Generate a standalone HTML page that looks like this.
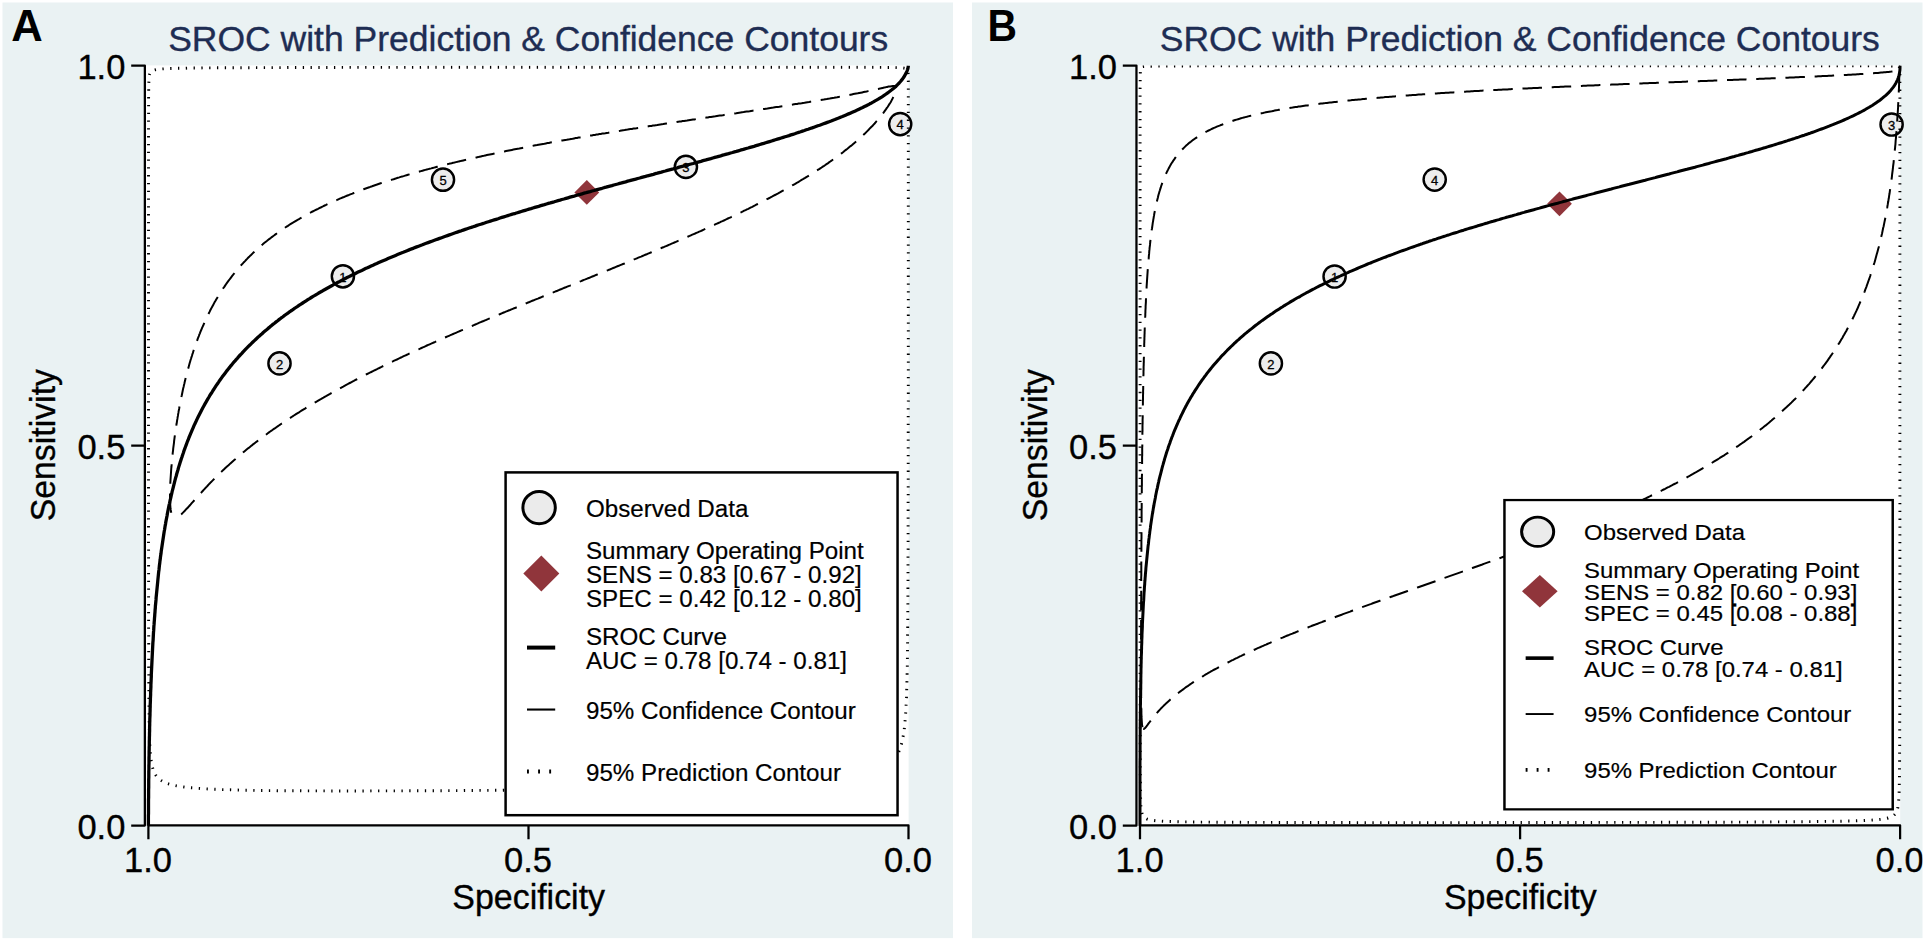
<!DOCTYPE html>
<html><head><meta charset="utf-8"><title>SROC with Prediction &amp; Confidence Contours</title>
<style>
html,body{margin:0;padding:0;background:#fff;}
body{width:1925px;height:941px;overflow:hidden;}
svg{display:block;}
svg text{font-family:"Liberation Sans",sans-serif;}
</style></head><body>
<svg width="1925" height="941" viewBox="0 0 1925 941">
<defs>
<clipPath id="clipA"><rect x="2.5" y="2.5" width="950.5" height="935.6"/></clipPath>
<clipPath id="clipB"><rect x="972" y="2.5" width="950.5" height="935.6"/></clipPath>
<clipPath id="plotclip"><rect x="146" y="65.4" width="764.5" height="761"/></clipPath>
</defs>
<rect x="0" y="0" width="1925" height="941" fill="#fff"/>
<rect x="2.5" y="2.5" width="950.5" height="935.6" fill="#eaf2f3"/>
<rect x="972" y="2.5" width="950.5" height="935.6" fill="#eaf2f3"/>
<g clip-path="url(#clipA)">
<g id="panelA">
<rect x="146" y="65.4" width="762.6" height="760.3" fill="#fff"/>
<circle cx="342.9" cy="276.3" r="11.1" fill="#ededed" stroke="#000" stroke-width="2.45"/>
<text x="342.9" y="281.6" font-size="13" text-anchor="middle" fill="#000" stroke="#000" stroke-width="0.3">1</text>
<circle cx="279.5" cy="363.4" r="11.1" fill="#ededed" stroke="#000" stroke-width="2.45"/>
<text x="279.5" y="368.7" font-size="13" text-anchor="middle" fill="#000" stroke="#000" stroke-width="0.3">2</text>
<circle cx="685.9" cy="166.9" r="11.1" fill="#ededed" stroke="#000" stroke-width="2.45"/>
<text x="685.9" y="172.2" font-size="13" text-anchor="middle" fill="#000" stroke="#000" stroke-width="0.3">3</text>
<circle cx="900.2" cy="124.1" r="11.1" fill="#ededed" stroke="#000" stroke-width="2.45"/>
<text x="900.2" y="129.4" font-size="13" text-anchor="middle" fill="#000" stroke="#000" stroke-width="0.3">4</text>
<circle cx="443" cy="179.7" r="11.1" fill="#ededed" stroke="#000" stroke-width="2.45"/>
<text x="443" y="185.0" font-size="13" text-anchor="middle" fill="#000" stroke="#000" stroke-width="0.3">5</text>
<path d="M574.4 192.4L586.8 180.0L599.1999999999999 192.4L586.8 204.8Z" fill="#90353b"/>
<g clip-path="url(#plotclip)" fill="none" stroke="#000">
<path d="M148.4 825.7L148.4 823.7L148.4 821.7L148.4 819.7L148.4 817.7L148.4 815.7L148.5 813.7L148.5 811.7L148.5 809.7L148.5 807.7L148.5 805.7L148.5 803.7L148.5 801.7L148.5 799.7L148.6 797.6L148.6 795.6L148.6 793.6L148.6 791.6L148.6 789.6L148.7 787.6L148.7 785.6L148.7 783.6L148.7 781.6L148.7 779.6L148.8 777.5L148.8 775.5L148.8 773.5L148.8 771.5L148.9 769.5L148.9 767.5L148.9 765.5L149.0 763.5L149.0 761.5L149.0 759.5L149.0 757.5L149.1 755.5L149.1 753.5L149.1 751.4L149.2 749.4L149.2 747.4L149.3 745.4L149.3 743.4L149.3 741.4L149.4 739.3L149.4 737.3L149.5 735.3L149.5 733.3L149.6 731.2L149.6 729.2L149.6 727.2L149.7 725.2L149.7 723.1L149.8 721.1L149.8 719.1L149.9 717.1L150.0 715.1L150.0 713.1L150.1 711.0L150.1 709.0L150.2 707.0L150.2 705.0L150.3 703.0L150.4 700.9L150.4 698.9L150.5 696.9L150.6 694.9L150.6 692.9L150.7 690.9L150.8 688.9L150.9 686.8L150.9 684.8L151.0 682.8L151.1 680.8L151.2 678.7L151.3 676.7L151.3 674.7L151.4 672.7L151.5 670.7L151.6 668.6L151.7 666.6L151.8 664.6L151.9 662.6L152.0 660.5L152.1 658.5L152.2 656.5L152.3 654.5L152.4 652.4L152.5 650.4L152.6 648.4L152.7 646.4L152.8 644.4L152.9 642.4L153.1 640.3L153.2 638.3L153.3 636.3L153.4 634.3L153.5 632.3L153.7 630.2L153.8 628.2L153.9 626.2L154.1 624.2L154.2 622.2L154.4 620.1L154.5 618.1L154.7 616.1L154.8 614.1L155.0 612.0L155.1 610.0L155.3 608.0L155.4 606.0L155.6 604.0L155.8 602.0L156.0 599.9L156.1 597.9L156.3 595.9L156.5 593.9L156.7 591.9L156.9 589.9L157.1 587.8L157.3 585.8L157.5 583.8L157.7 581.8L157.9 579.7L158.1 577.7L158.3 575.7L158.5 573.7L158.7 571.7L159.0 569.7L159.2 567.7L159.4 565.6L159.7 563.6L159.9 561.6L160.2 559.6L160.4 557.6L160.7 555.6L161.0 553.6L161.2 551.6L161.5 549.6L161.8 547.6L162.1 545.5L162.4 543.5L162.7 541.5L163.0 539.5L163.3 537.5L163.6 535.5L163.9 533.5L164.2 531.5L164.6 529.5L164.9 527.6L165.2 525.6L165.6 523.6L165.9 521.6L166.3 519.5L166.7 517.5L167.1 515.5L167.4 513.5L167.8 511.5L168.2 509.5L168.6 507.5L169.0 505.5L169.5 503.6L169.9 501.6L170.3 499.6L170.8 497.7L171.2 495.7L171.7 493.7L172.1 491.7L172.6 489.8L173.1 487.8L173.6 485.8L174.1 483.9L174.6 481.9L175.1 479.9L175.6 477.9L176.2 476.0L176.7 474.0L177.3 472.0L177.9 470.0L178.4 468.1L179.0 466.1L179.6 464.2L180.2 462.3L180.8 460.4L181.4 458.5L182.1 456.6L182.7 454.7L183.4 452.8L184.0 450.8L184.7 448.9L185.4 447.0L186.1 445.1L186.8 443.2L187.5 441.3L188.3 439.4L189.0 437.5L189.8 435.6L190.6 433.7L191.4 431.8L192.2 429.9L193.0 428.1L193.8 426.2L194.6 424.4L195.5 422.6L196.3 420.8L197.2 418.9L198.1 417.1L199.0 415.3L199.9 413.5L200.8 411.7L201.8 409.8L202.7 408.0L203.7 406.2L204.7 404.4L205.7 402.7L206.7 400.9L207.7 399.2L208.7 397.5L209.7 395.7L210.8 394.0L211.9 392.3L213.0 390.5L214.1 388.8L215.2 387.1L216.3 385.4L217.5 383.7L218.6 382.1L219.7 380.4L220.9 378.8L222.1 377.1L223.3 375.5L224.5 373.9L225.8 372.2L227.0 370.6L228.3 369.0L229.6 367.4L230.8 365.8L232.1 364.3L233.4 362.7L234.8 361.2L236.1 359.6L237.5 358.1L238.8 356.5L240.2 355.0L241.6 353.6L242.9 352.1L244.3 350.6L245.7 349.1L247.2 347.6L248.6 346.2L250.1 344.8L251.5 343.4L252.9 342.0L254.4 340.6L255.9 339.2L257.4 337.8L258.9 336.4L260.5 335.0L262.0 333.7L263.5 332.3L265.0 331.0L266.6 329.7L268.1 328.4L269.7 327.1L271.3 325.7L272.9 324.4L274.5 323.2L276.1 321.9L277.7 320.7L279.3 319.4L280.9 318.2L282.6 317.0L284.2 315.7L285.9 314.5L287.5 313.4L289.1 312.2L290.8 311.0L292.5 309.9L294.1 308.7L295.9 307.5L297.6 306.4L299.3 305.2L301.0 304.1L302.7 303.0L304.4 301.9L306.1 300.8L307.8 299.7L309.6 298.6L311.3 297.5L313.1 296.4L314.9 295.4L316.6 294.3L318.3 293.3L320.1 292.3L321.9 291.3L323.6 290.2L325.4 289.2L327.2 288.2L329.0 287.2L330.8 286.2L332.7 285.2L334.4 284.2L336.2 283.3L338.0 282.3L339.8 281.4L341.6 280.4L343.4 279.5L345.3 278.5L347.1 277.6L349.0 276.6L350.8 275.7L352.7 274.8L354.5 273.9L356.3 273.0L358.1 272.1L360.0 271.2L361.8 270.4L363.7 269.5L365.5 268.6L367.4 267.8L369.2 266.9L371.1 266.0L373.0 265.2L374.9 264.3L376.8 263.5L378.8 262.6L380.6 261.8L382.4 261.0L384.3 260.2L386.2 259.4L388.0 258.6L389.9 257.8L391.8 257.0L393.7 256.2L395.6 255.4L397.5 254.6L399.4 253.8L401.3 253.0L403.2 252.3L405.2 251.5L407.1 250.7L409.1 249.9L411.0 249.1L413.0 248.4L414.8 247.6L416.7 246.9L418.6 246.2L420.5 245.5L422.4 244.8L424.3 244.0L426.2 243.3L428.1 242.6L430.0 241.9L431.9 241.2L433.8 240.5L435.7 239.8L437.7 239.1L439.6 238.4L441.6 237.7L443.5 237.0L445.5 236.3L447.4 235.6L449.4 234.9L451.3 234.2L453.3 233.5L455.3 232.8L457.3 232.1L459.2 231.4L461.2 230.8L463.2 230.1L465.2 229.4L467.2 228.7L469.2 228.0L471.2 227.4L473.2 226.7L475.1 226.1L477.0 225.4L478.9 224.8L480.8 224.2L482.7 223.6L484.6 223.0L486.6 222.3L488.5 221.7L490.4 221.1L492.3 220.5L494.2 219.9L496.2 219.3L498.1 218.7L500.0 218.0L501.9 217.4L503.9 216.8L505.8 216.2L507.7 215.6L509.7 215.0L511.6 214.4L513.5 213.8L515.5 213.3L517.4 212.7L519.3 212.1L521.3 211.5L523.2 210.9L525.2 210.3L527.1 209.7L529.0 209.1L531.0 208.6L532.9 208.0L534.8 207.4L536.8 206.8L538.7 206.3L540.7 205.7L542.6 205.1L544.5 204.6L546.5 204.0L548.4 203.4L550.3 202.9L552.3 202.3L554.2 201.8L556.1 201.2L558.0 200.6L560.0 200.1L561.9 199.5L563.9 199.0L566.0 198.4L568.0 197.8L570.0 197.2L572.0 196.6L574.1 196.1L576.1 195.5L578.1 194.9L580.1 194.4L582.1 193.8L584.1 193.2L586.1 192.7L588.2 192.1L590.2 191.6L592.1 191.0L594.1 190.5L596.1 189.9L598.1 189.3L600.1 188.8L602.1 188.3L604.0 187.7L606.0 187.2L608.0 186.6L609.9 186.1L611.9 185.6L613.8 185.0L615.8 184.5L617.7 184.0L619.7 183.4L621.6 182.9L623.6 182.3L625.7 181.8L627.7 181.2L629.7 180.7L631.7 180.1L633.7 179.6L635.7 179.1L637.7 178.5L639.7 178.0L641.7 177.4L643.6 176.9L645.6 176.4L647.5 175.8L649.5 175.3L651.4 174.8L653.4 174.3L655.4 173.7L657.4 173.2L659.4 172.6L661.4 172.1L663.4 171.5L665.4 171.0L667.4 170.4L669.4 169.9L671.3 169.4L673.3 168.9L675.2 168.3L677.2 167.8L679.2 167.2L681.2 166.7L683.2 166.2L685.2 165.6L687.2 165.1L689.1 164.5L691.1 164.0L693.1 163.5L695.0 162.9L697.0 162.4L699.0 161.8L701.0 161.3L703.0 160.7L705.0 160.2L706.9 159.6L708.9 159.1L710.8 158.6L712.8 158.0L714.8 157.4L716.8 156.9L718.8 156.3L720.7 155.8L722.7 155.2L724.6 154.7L726.6 154.1L728.6 153.6L730.6 153.0L732.5 152.5L734.5 151.9L736.4 151.4L738.4 150.8L740.3 150.2L742.3 149.7L744.2 149.1L746.2 148.5L748.1 148.0L750.1 147.4L752.1 146.8L754.0 146.3L756.0 145.7L757.9 145.1L759.9 144.5L761.8 143.9L763.8 143.4L765.7 142.8L767.7 142.2L769.6 141.6L771.6 141.0L773.5 140.4L775.4 139.8L777.4 139.2L779.3 138.6L781.2 138.0L783.2 137.4L785.1 136.8L787.0 136.2L789.0 135.6L790.9 134.9L792.9 134.3L794.8 133.7L796.7 133.0L798.7 132.4L800.6 131.8L802.5 131.1L804.4 130.5L806.3 129.8L808.2 129.2L810.1 128.5L812.1 127.9L814.0 127.2L815.9 126.5L817.8 125.8L819.7 125.2L821.6 124.5L823.5 123.8L825.4 123.1L827.3 122.4L829.2 121.7L831.1 121.0L833.0 120.2L834.9 119.5L836.8 118.7L838.7 118.0L840.5 117.2L842.4 116.5L844.3 115.7L846.1 114.9L848.0 114.1L849.8 113.4L851.7 112.5L853.5 111.7L855.4 110.9L857.2 110.1L859.0 109.2L860.9 108.3L862.7 107.5L864.5 106.6L866.3 105.7L868.1 104.8L869.8 103.8L871.6 102.9L873.4 101.9L875.1 100.9L876.9 99.9L878.6 98.9L880.3 97.8L882.0 96.8L883.7 95.7L885.4 94.5L887.0 93.4L888.6 92.2L890.2 91.0L891.8 89.8L893.4 88.5L894.9 87.2L896.4 85.8L897.8 84.4L899.2 83.0L900.5 81.5L901.8 79.9L903.0 78.3L904.1 76.7L905.1 74.9L906.1 73.2L906.9 71.3L907.6 69.5L908.1 67.5L908.4 65.6" stroke-width="3.3" stroke-linejoin="round"/>
<path d="M895.8 86.7L896.3 88.1L896.2 89.6L895.9 91.0L895.4 92.5L894.9 93.9L894.3 95.2L893.6 96.6L892.9 97.9L892.2 99.3L891.5 100.6L890.8 101.9L890.0 103.2L889.2 104.4L888.4 105.7L887.6 107.0L886.7 108.2L885.9 109.4L885.0 110.6L884.1 111.9L883.2 113.1L882.3 114.2L881.4 115.4L880.4 116.6L879.5 117.8L878.5 118.9L877.6 120.1L876.6 121.2L875.6 122.3L874.6 123.5L873.6 124.6L872.6 125.7L871.5 126.8L870.5 127.8L869.4 128.9L868.4 130.0L867.3 131.1L866.3 132.1L865.2 133.2L864.1 134.2L863.0 135.2L861.9 136.3L860.8 137.3L859.7 138.3L858.6 139.3L857.5 140.3L856.3 141.3L855.2 142.3L854.1 143.2L852.9 144.2L851.8 145.2L850.6 146.1L849.4 147.1L848.3 148.0L847.1 149.0L845.9 149.9L844.7 150.8L843.6 151.8L842.4 152.7L841.2 153.6L840.0 154.5L838.8 155.4L837.6 156.3L836.4 157.2L835.1 158.1L833.9 158.9L832.7 159.8L831.5 160.7L830.3 161.5L829.0 162.4L827.8 163.3L826.5 164.1L825.3 165.0L824.1 165.8L822.8 166.6L821.6 167.5L820.3 168.3L819.1 169.1L817.8 169.9L816.5 170.7L815.3 171.6L814.0 172.4L812.7 173.2L811.5 174.0L810.2 174.8L808.9 175.6L807.6 176.4L806.3 177.1L805.1 177.9L803.8 178.7L802.5 179.5L801.2 180.2L799.9 181.0L798.6 181.8L797.3 182.5L796.0 183.3L794.7 184.1L793.4 184.8L792.1 185.5L790.8 186.3L789.5 187.0L788.2 187.8L786.9 188.5L785.6 189.2L784.3 190.0L782.9 190.7L781.6 191.4L780.3 192.2L779.0 192.9L777.7 193.6L776.3 194.3L775.0 195.0L773.7 195.7L772.4 196.4L771.0 197.1L769.7 197.8L768.4 198.5L767.0 199.2L765.7 199.9L764.4 200.6L763.0 201.3L761.7 202.0L760.4 202.7L759.0 203.4L757.7 204.0L756.3 204.7L755.0 205.4L753.6 206.1L752.3 206.8L751.0 207.4L749.6 208.1L748.3 208.8L746.9 209.4L745.6 210.1L744.2 210.7L742.9 211.4L741.5 212.1L740.2 212.7L738.8 213.4L737.4 214.0L736.1 214.7L734.7 215.3L733.4 216.0L732.0 216.6L730.7 217.3L729.3 217.9L727.9 218.5L726.6 219.2L725.2 219.8L723.8 220.5L722.5 221.1L721.1 221.7L719.8 222.4L718.4 223.0L717.0 223.6L715.7 224.2L714.3 224.9L712.9 225.5L711.5 226.1L710.2 226.7L708.8 227.4L707.4 228.0L706.1 228.6L704.7 229.2L703.3 229.8L701.9 230.5L700.6 231.1L699.2 231.7L697.8 232.3L696.4 232.9L695.1 233.5L693.7 234.1L692.3 234.7L690.9 235.3L689.6 235.9L688.2 236.5L686.8 237.1L685.4 237.7L684.0 238.4L682.7 238.9L681.3 239.5L679.9 240.1L678.5 240.7L677.1 241.3L675.8 241.9L674.4 242.5L673.0 243.1L671.6 243.7L670.2 244.3L668.8 244.9L667.5 245.5L666.1 246.1L664.7 246.7L663.3 247.3L661.9 247.8L660.5 248.4L659.1 249.0L657.8 249.6L656.4 250.2L655.0 250.8L653.6 251.3L652.2 251.9L650.8 252.5L649.4 253.1L648.0 253.7L646.7 254.3L645.3 254.8L643.9 255.4L642.5 256.0L641.1 256.6L639.7 257.1L638.3 257.7L636.9 258.3L635.5 258.9L634.1 259.4L632.8 260.0L631.4 260.6L630.0 261.2L628.6 261.7L627.2 262.3L625.8 262.9L624.4 263.5L623.0 264.0L621.6 264.6L620.2 265.2L618.8 265.8L617.4 266.3L616.0 266.9L614.6 267.5L613.2 268.0L611.8 268.6L610.4 269.2L609.1 269.7L607.7 270.3L606.3 270.9L604.9 271.4L603.5 272.0L602.1 272.6L600.7 273.1L599.3 273.7L597.9 274.3L596.5 274.8L595.1 275.4L593.7 276.0L592.3 276.5L590.9 277.1L589.5 277.7L588.1 278.2L586.7 278.8L585.3 279.4L583.9 279.9L582.5 280.5L581.1 281.1L579.7 281.6L578.3 282.2L577.0 282.8L575.6 283.3L574.2 283.9L572.8 284.4L571.4 285.0L570.0 285.6L568.6 286.1L567.2 286.7L565.8 287.3L564.4 287.8L563.0 288.4L561.6 289.0L560.2 289.5L558.8 290.1L557.4 290.7L556.0 291.2L554.6 291.8L553.2 292.4L551.8 292.9L550.4 293.5L549.0 294.1L547.6 294.6L546.2 295.2L544.8 295.8L543.4 296.3L542.0 296.9L540.6 297.5L539.3 298.0L537.9 298.6L536.5 299.1L535.1 299.7L533.7 300.3L532.3 300.8L530.9 301.4L529.5 302.0L528.1 302.5L526.7 303.1L525.3 303.7L524.0 304.3L522.6 304.8L521.2 305.4L519.8 306.0L518.4 306.5L517.0 307.1L515.6 307.7L514.2 308.2L512.8 308.8L511.4 309.4L510.0 310.0L508.6 310.5L507.2 311.1L505.8 311.7L504.4 312.3L503.1 312.8L501.7 313.4L500.3 314.0L498.9 314.6L497.5 315.2L496.1 315.7L494.7 316.3L493.3 316.9L491.9 317.5L490.5 318.1L489.1 318.6L487.8 319.2L486.4 319.8L485.0 320.4L483.6 321.0L482.2 321.5L480.8 322.1L479.4 322.7L478.0 323.3L476.7 323.9L475.3 324.5L473.9 325.1L472.5 325.7L471.1 326.2L469.7 326.8L468.3 327.4L466.9 328.0L465.6 328.6L464.2 329.2L462.8 329.8L461.4 330.4L460.0 331.0L458.6 331.6L457.3 332.2L455.9 332.8L454.5 333.4L453.1 334.0L451.7 334.6L450.4 335.2L449.0 335.8L447.6 336.4L446.2 337.0L444.8 337.6L443.5 338.2L442.1 338.8L440.7 339.4L439.3 340.0L437.9 340.6L436.6 341.2L435.2 341.9L433.8 342.5L432.4 343.1L431.1 343.7L429.7 344.3L428.3 344.9L426.9 345.5L425.6 346.2L424.2 346.8L422.8 347.4L421.5 348.0L420.1 348.7L418.7 349.3L417.3 349.9L416.0 350.5L414.6 351.2L413.2 351.8L411.9 352.4L410.5 353.1L409.1 353.7L407.8 354.3L406.4 355.0L405.0 355.6L403.7 356.2L402.3 356.9L401.0 357.5L399.6 358.2L398.2 358.8L396.9 359.5L395.5 360.1L394.2 360.7L392.8 361.4L391.4 362.0L390.1 362.7L388.7 363.4L387.4 364.0L386.0 364.7L384.7 365.3L383.3 366.0L382.0 366.6L380.6 367.3L379.3 368.0L377.9 368.6L376.6 369.3L375.2 370.0L373.9 370.6L372.5 371.3L371.2 372.0L369.8 372.7L368.5 373.3L367.1 374.0L365.8 374.7L364.5 375.4L363.1 376.1L361.8 376.8L360.5 377.5L359.1 378.1L357.8 378.8L356.4 379.5L355.1 380.2L353.8 380.9L352.4 381.6L351.1 382.3L349.8 383.0L348.5 383.7L347.1 384.5L345.8 385.2L344.5 385.9L343.2 386.6L341.8 387.3L340.5 388.0L339.2 388.8L337.9 389.5L336.6 390.2L335.2 390.9L333.9 391.7L332.6 392.4L331.3 393.1L330.0 393.9L328.7 394.6L327.4 395.3L326.0 396.1L324.7 396.8L323.4 397.6L322.1 398.3L320.8 399.1L319.5 399.8L318.2 400.6L316.9 401.4L315.7 402.1L314.4 402.9L313.1 403.7L311.8 404.4L310.5 405.2L309.2 406.0L307.9 406.8L306.6 407.5L305.4 408.3L304.1 409.1L302.8 409.9L301.5 410.7L300.2 411.5L299.0 412.3L297.7 413.1L296.4 413.9L295.2 414.7L293.9 415.5L292.6 416.3L291.4 417.2L290.1 418.0L288.8 418.8L287.6 419.6L286.3 420.5L285.1 421.3L283.8 422.1L282.6 423.0L281.3 423.8L280.1 424.7L278.9 425.5L277.6 426.4L276.4 427.2L275.2 428.1L273.9 428.9L272.7 429.8L271.5 430.7L270.2 431.5L269.0 432.4L267.8 433.3L266.6 434.2L265.4 435.1L264.2 436.0L262.9 436.9L261.7 437.8L260.5 438.7L259.3 439.6L258.1 440.5L257.0 441.4L255.8 442.3L254.6 443.2L253.4 444.1L252.2 445.1L251.0 446.0L249.9 446.9L248.7 447.9L247.5 448.8L246.3 449.8L245.2 450.7L244.0 451.7L242.9 452.6L241.7 453.6L240.6 454.6L239.4 455.5L238.3 456.5L237.1 457.5L236.0 458.5L234.9 459.5L233.7 460.4L232.6 461.4L231.5 462.4L230.4 463.4L229.3 464.5L228.2 465.5L227.0 466.5L225.9 467.5L224.8 468.5L223.8 469.6L222.7 470.6L221.6 471.6L220.5 472.7L219.4 473.7L218.3 474.8L217.3 475.8L216.2 476.9L215.1 477.9L214.1 479.0L213.0 480.1L212.0 481.1L210.9 482.2L209.9 483.3L208.8 484.4L207.8 485.5L206.8 486.6L205.7 487.7L204.7 488.8L203.7 489.9L202.7 491.0L201.7 492.1L200.7 493.2L199.7 494.3L198.6 495.4L197.6 496.5L196.6 497.6L195.6 498.8L194.6 499.9L193.7 501.0L192.7 502.1L191.7 503.2L190.7 504.4L189.7 505.5L188.7 506.6L187.7 507.7L186.6 508.8L185.6 509.9L184.6 511.0L183.5 512.1L182.5 513.1L181.4 514.2L180.3 515.2L179.1 516.1L177.8 516.9L176.5 517.6L175.0 517.8L173.6 517.3L173.2 517.0" stroke-width="2" stroke-dasharray="19.5 9.675" stroke-dashoffset="18.2"/>
<path d="M173.2 517.0L172.3 515.7L171.7 514.4L171.3 512.9L171.0 511.5L170.7 510.0L170.5 508.5L170.4 507.0L170.3 505.5L170.2 504.0L170.1 502.5L170.0 501.0L170.0 499.5L170.0 498.0L170.0 496.5L170.0 495.0L170.0 493.5L170.0 492.0L170.1 490.5L170.1 489.0L170.2 487.5L170.2 486.0L170.3 484.5L170.3 483.0L170.4 481.5L170.5 480.0L170.6 478.5L170.7 477.0L170.8 475.5L170.9 474.0L171.0 472.5L171.1 471.0L171.2 469.5L171.3 468.0L171.5 466.5L171.6 465.0L171.7 463.5L171.8 462.0L172.0 460.5L172.1 459.1L172.3 457.6L172.4 456.1L172.6 454.6L172.7 453.1L172.9 451.6L173.1 450.1L173.2 448.6L173.4 447.1L173.6 445.6L173.8 444.1L174.0 442.6L174.1 441.1L174.3 439.7L174.5 438.2L174.7 436.7L174.9 435.2L175.1 433.7L175.3 432.2L175.5 430.7L175.8 429.2L176.0 427.8L176.2 426.3L176.4 424.8L176.7 423.3L176.9 421.8L177.1 420.3L177.4 418.9L177.6 417.4L177.9 415.9L178.1 414.4L178.4 412.9L178.6 411.4L178.9 410.0L179.2 408.5L179.4 407.0L179.7 405.5L180.0 404.1L180.3 402.6L180.6 401.1L180.8 399.6L181.1 398.2L181.4 396.7L181.8 395.2L182.1 393.7L182.4 392.3L182.7 390.8L183.0 389.3L183.3 387.9L183.7 386.4L184.0 384.9L184.4 383.5L184.7 382.0L185.1 380.6L185.4 379.1L185.8 377.6L186.1 376.2L186.5 374.7L186.9 373.3L187.3 371.8L187.7 370.4L188.1 368.9L188.5 367.5L188.9 366.0L189.3 364.6L189.7 363.1L190.1 361.7L190.5 360.3L191.0 358.8L191.4 357.4L191.9 356.0L192.3 354.5L192.8 353.1L193.2 351.7L193.7 350.2L194.2 348.8L194.7 347.4L195.2 346.0L195.7 344.5L196.2 343.1L196.7 341.7L197.2 340.3L197.7 338.9L198.2 337.5L198.8 336.1L199.3 334.7L199.9 333.3L200.4 331.9L201.0 330.5L201.6 329.1L202.2 327.7L202.8 326.3L203.4 325.0L204.0 323.6L204.6 322.2L205.2 320.9L205.8 319.5L206.5 318.1L207.1 316.8L207.8 315.4L208.4 314.1L209.1 312.7L209.8 311.4L210.4 310.0L211.1 308.7L211.8 307.4L212.6 306.1L213.3 304.7L214.0 303.4L214.7 302.1L215.5 300.8L216.2 299.5L217.0 298.2L217.8 296.9L218.6 295.6L219.3 294.4L220.1 293.1L220.9 291.8L221.8 290.6L222.6 289.3L223.4 288.0L224.3 286.8L225.1 285.6L226.0 284.3L226.8 283.1L227.7 281.9L228.6 280.7L229.5 279.5L230.4 278.3L231.3 277.1L232.2 275.9L233.2 274.7L234.1 273.5L235.0 272.4L236.0 271.2L237.0 270.0L237.9 268.9L238.9 267.8L239.9 266.6L240.9 265.5L241.9 264.4L242.9 263.3L243.9 262.2L245.0 261.1L246.0 260.0L247.1 258.9L248.1 257.8L249.2 256.8L250.2 255.7L251.3 254.7L252.4 253.6L253.5 252.6L254.6 251.6L255.7 250.5L256.8 249.5L257.9 248.5L259.0 247.5L260.2 246.5L261.3 245.6L262.5 244.6L263.6 243.6L264.8 242.6L265.9 241.7L267.1 240.8L268.3 239.8L269.5 238.9L270.7 238.0L271.8 237.1L273.0 236.2L274.3 235.3L275.5 234.4L276.7 233.5L277.9 232.6L279.1 231.7L280.4 230.9L281.6 230.0L282.8 229.2L284.1 228.3L285.3 227.5L286.6 226.7L287.9 225.9L289.1 225.0L290.4 224.2L291.7 223.4L292.9 222.7L294.2 221.9L295.5 221.1L296.8 220.3L298.1 219.5L299.4 218.8L300.7 218.0L302.0 217.3L303.3 216.5L304.6 215.8L306.0 215.1L307.3 214.4L308.6 213.6L309.9 212.9L311.3 212.2L312.6 211.5L313.9 210.8L315.3 210.1L316.6 209.5L318.0 208.8L319.3 208.1L320.7 207.5L322.0 206.8L323.4 206.2L324.7 205.5L326.1 204.9L327.5 204.2L328.8 203.6L330.2 203.0L331.6 202.3L332.9 201.7L334.3 201.1L335.7 200.5L337.1 199.9L338.4 199.3L339.8 198.7L341.2 198.1L342.6 197.5L344.0 197.0L345.4 196.4L346.8 195.8L348.2 195.3L349.6 194.7L351.0 194.1L352.4 193.6L353.8 193.0L355.2 192.5L356.6 191.9L358.0 191.4L359.4 190.9L360.8 190.3L362.2 189.8L363.6 189.3L365.0 188.8L366.4 188.3L367.8 187.8L369.3 187.3L370.7 186.7L372.1 186.3L373.5 185.8L374.9 185.3L376.4 184.8L377.8 184.3L379.2 183.8L380.6 183.3L382.1 182.8L383.5 182.4L384.9 181.9L386.4 181.4L387.8 181.0L389.2 180.5L390.7 180.1L392.1 179.6L393.6 179.2L395.0 178.7L396.4 178.3L397.9 177.8L399.3 177.4L400.7 176.9L402.2 176.5L403.6 176.1L405.1 175.6L406.5 175.2L408.0 174.8L409.4 174.4L410.9 174.0L412.3 173.5L413.7 173.1L415.2 172.7L416.6 172.3L418.1 171.9L419.5 171.5L421.0 171.1L422.5 170.7L423.9 170.3L425.4 169.9L426.8 169.5L428.3 169.1L429.7 168.7L431.2 168.4L432.6 168.0L434.1 167.6L435.5 167.2L437.0 166.8L438.5 166.5L439.9 166.1L441.4 165.7L442.8 165.4L444.3 165.0L445.8 164.6L447.2 164.3L448.7 163.9L450.1 163.5L451.6 163.2L453.1 162.8L454.5 162.5L456.0 162.1L457.5 161.8L458.9 161.4L460.4 161.1L461.9 160.7L463.3 160.4L464.8 160.1L466.3 159.7L467.7 159.4L469.2 159.0L470.7 158.7L472.1 158.4L473.6 158.0L475.1 157.7L476.5 157.4L478.0 157.1L479.5 156.7L480.9 156.4L482.4 156.1L483.9 155.8L485.4 155.4L486.8 155.1L488.3 154.8L489.8 154.5L491.2 154.2L492.7 153.9L494.2 153.6L495.7 153.2L497.1 152.9L498.6 152.6L500.1 152.3L501.6 152.0L503.0 151.7L504.5 151.4L506.0 151.1L507.5 150.8L508.9 150.5L510.4 150.2L511.9 149.9L513.4 149.6L514.8 149.3L516.3 149.0L517.8 148.7L519.3 148.5L520.7 148.2L522.2 147.9L523.7 147.6L525.2 147.3L526.7 147.0L528.1 146.7L529.6 146.5L531.1 146.2L532.6 145.9L534.1 145.6L535.6 145.3L537.0 145.1L538.5 144.8L540.0 144.5L541.5 144.2L543.0 143.9L544.4 143.7L545.9 143.4L547.4 143.1L548.9 142.9L550.4 142.6L551.8 142.3L553.3 142.1L554.8 141.8L556.3 141.5L557.8 141.3L559.3 141.0L560.7 140.7L562.2 140.5L563.7 140.2L565.2 139.9L566.7 139.7L568.2 139.4L569.6 139.2L571.1 138.9L572.6 138.7L574.1 138.4L575.6 138.1L577.1 137.9L578.5 137.6L580.0 137.4L581.5 137.1L583.0 136.9L584.5 136.6L586.0 136.4L587.5 136.1L588.9 135.9L590.4 135.6L591.9 135.4L593.4 135.1L594.9 134.9L596.4 134.6L597.9 134.4L599.3 134.1L600.8 133.9L602.3 133.6L603.8 133.4L605.3 133.2L606.8 132.9L608.3 132.7L609.7 132.4L611.2 132.2L612.7 132.0L614.2 131.7L615.7 131.5L617.2 131.2L618.7 131.0L620.1 130.8L621.6 130.5L623.1 130.3L624.6 130.1L626.1 129.8L627.6 129.6L629.1 129.3L630.5 129.1L632.0 128.9L633.5 128.6L635.0 128.4L636.5 128.2L638.0 127.9L639.5 127.7L641.0 127.5L642.4 127.3L643.9 127.0L645.4 126.8L646.9 126.6L648.4 126.3L649.9 126.1L651.4 125.9L652.9 125.6L654.3 125.4L655.8 125.2L657.3 125.0L658.8 124.7L660.3 124.5L661.8 124.3L663.3 124.1L664.8 123.8L666.3 123.6L667.7 123.4L669.2 123.2L670.7 122.9L672.2 122.7L673.7 122.5L675.2 122.3L676.7 122.0L678.2 121.8L679.6 121.6L681.1 121.4L682.6 121.1L684.1 120.9L685.6 120.7L687.1 120.5L688.6 120.2L690.1 120.0L691.6 119.8L693.0 119.6L694.5 119.4L696.0 119.1L697.5 118.9L699.0 118.7L700.5 118.5L702.0 118.2L703.5 118.0L705.0 117.8L706.4 117.6L707.9 117.4L709.4 117.1L710.9 116.9L712.4 116.7L713.9 116.5L715.4 116.3L716.9 116.0L718.3 115.8L719.8 115.6L721.3 115.4L722.8 115.2L724.3 114.9L725.8 114.7L727.3 114.5L728.8 114.3L730.2 114.0L731.7 113.8L733.2 113.6L734.7 113.4L736.2 113.2L737.7 112.9L739.2 112.7L740.7 112.5L742.1 112.3L743.6 112.1L745.1 111.8L746.6 111.6L748.1 111.4L749.6 111.2L751.1 110.9L752.6 110.7L754.0 110.5L755.5 110.3L757.0 110.0L758.5 109.8L760.0 109.6L761.5 109.4L763.0 109.1L764.4 108.9L765.9 108.7L767.4 108.5L768.9 108.2L770.4 108.0L771.9 107.8L773.4 107.6L774.8 107.3L776.3 107.1L777.8 106.9L779.3 106.7L780.8 106.4L782.3 106.2L783.8 106.0L785.2 105.7L786.7 105.5L788.2 105.3L789.7 105.0L791.2 104.8L792.7 104.6L794.1 104.3L795.6 104.1L797.1 103.9L798.6 103.6L800.1 103.4L801.6 103.2L803.0 102.9L804.5 102.7L806.0 102.4L807.5 102.2L809.0 102.0L810.5 101.7L811.9 101.5L813.4 101.2L814.9 101.0L816.4 100.7L817.9 100.5L819.4 100.2L820.8 100.0L822.3 99.7L823.8 99.5L825.3 99.2L826.8 99.0L828.2 98.7L829.7 98.5L831.2 98.2L832.7 97.9L834.1 97.7L835.6 97.4L837.1 97.2L838.6 96.9L840.1 96.6L841.5 96.3L843.0 96.1L844.5 95.8L846.0 95.5L847.4 95.3L848.9 95.0L850.4 94.7L851.9 94.4L853.3 94.1L854.8 93.8L856.3 93.5L857.8 93.3L859.2 93.0L860.7 92.7L862.2 92.4L863.6 92.1L865.1 91.8L866.6 91.5L868.1 91.1L869.5 90.8L871.0 90.5L872.5 90.2L873.9 89.9L875.4 89.6L876.9 89.2L878.3 88.9L879.8 88.6L881.2 88.2L882.7 87.9L884.2 87.6L885.6 87.3L887.1 86.9L888.6 86.6L890.1 86.4L891.5 86.2L893.0 86.0L894.5 86.1L895.8 86.7" stroke-width="2" stroke-dasharray="19.5 9.680" stroke-dashoffset="24.5"/>
<path d="M739.5 67.2L741.1 67.2L742.7 67.2L744.4 67.2L746.1 67.2L747.7 67.2L749.3 67.2L751.0 67.2L752.6 67.2L754.2 67.2L755.7 67.2L757.3 67.2L758.9 67.2L760.4 67.2L761.9 67.2L763.5 67.2L765.0 67.2L766.6 67.2L768.3 67.2L769.9 67.2L771.5 67.2L773.1 67.2L774.7 67.2L776.3 67.2L777.8 67.2L779.4 67.2L780.9 67.2L782.4 67.2L784.1 67.2L785.7 67.2L787.3 67.2L788.9 67.2L790.5 67.2L792.0 67.2L793.5 67.2L795.1 67.2L796.6 67.2L798.2 67.2L799.8 67.2L801.4 67.2L802.9 67.2L804.5 67.2L806.0 67.2L807.5 67.2L809.1 67.2L810.7 67.2L812.3 67.2L813.8 67.2L815.3 67.2L816.9 67.2L818.5 67.2L820.1 67.2L821.6 67.2L823.1 67.2L824.7 67.2L826.3 67.2L827.8 67.2L829.3 67.2L830.9 67.2L832.5 67.2L834.0 67.2L835.5 67.2L837.1 67.2L838.6 67.3L840.1 67.3L841.7 67.3L843.2 67.3L844.8 67.3L846.3 67.3L847.8 67.3L849.4 67.3L850.9 67.3L852.4 67.3L853.9 67.3L855.4 67.3L857.0 67.3L858.5 67.3L860.1 67.3L861.6 67.3L863.1 67.3L864.6 67.3L866.1 67.3L867.7 67.3L869.2 67.3L870.7 67.3L872.2 67.3L873.7 67.3L875.2 67.4L876.8 67.4L878.3 67.4L879.8 67.4L881.3 67.4L882.9 67.4L884.4 67.4L885.9 67.4L887.4 67.5L888.9 67.5L890.4 67.5L892.0 67.5L893.5 67.6L895.0 67.6L896.5 67.6L898.0 67.7L899.5 67.7L901.0 67.8L902.5 67.9L904.0 68.1L905.4 68.4L906.8 69.0L907.6 70.2L908.0 71.7L908.1 73.2L908.2 74.7L908.2 76.2L908.2 77.7L908.2 79.2L908.3 80.7L908.3 82.2L908.3 83.7L908.3 85.2L908.3 86.7L908.3 88.2L908.3 89.7L908.3 91.3L908.3 92.8L908.3 94.3L908.3 95.8L908.3 97.3L908.3 98.8L908.3 100.3L908.3 101.9L908.3 103.4L908.3 104.9L908.3 106.4L908.3 107.9L908.3 109.4L908.3 110.9L908.3 112.4L908.3 113.9L908.3 115.5L908.3 117.0L908.3 118.5L908.3 120.0L908.3 121.5L908.3 123.1L908.3 124.6L908.3 126.1L908.3 127.7L908.3 129.2L908.3 130.7L908.3 132.2L908.3 133.7L908.3 135.3L908.3 136.8L908.3 138.3L908.3 139.9L908.3 141.4L908.3 142.9L908.3 144.4L908.3 146.0L908.3 147.5L908.3 149.0L908.3 150.5L908.3 152.1L908.3 153.6L908.3 155.1L908.3 156.7L908.3 158.2L908.3 159.7L908.3 161.2L908.3 162.8L908.3 164.3L908.3 165.8L908.3 167.3L908.3 168.9L908.3 170.4L908.3 172.0L908.3 173.5L908.3 175.0L908.3 176.6L908.3 178.1L908.3 179.6L908.3 181.2L908.3 182.7L908.3 184.2L908.3 185.7L908.3 187.3L908.3 188.9L908.3 190.4L908.3 191.9L908.3 193.4L908.3 195.0L908.3 196.5L908.3 198.0L908.3 199.6L908.3 201.1L908.3 202.6L908.3 204.2L908.3 205.8L908.3 207.3L908.3 208.8L908.3 210.3L908.3 211.9L908.3 213.4L908.3 215.0L908.3 216.5L908.3 218.1L908.3 219.6L908.3 221.2L908.3 222.7L908.3 224.2L908.3 225.8L908.3 227.4L908.3 228.9L908.3 230.5L908.3 232.0L908.3 233.5L908.3 235.1L908.3 236.6L908.3 238.1L908.3 239.7L908.3 241.2L908.3 242.8L908.3 244.4L908.3 246.0L908.3 247.6L908.3 249.1L908.3 250.6L908.3 252.1L908.3 253.7L908.3 255.2L908.3 256.7L908.3 258.3L908.3 259.9L908.3 261.4L908.3 263.0L908.3 264.6L908.3 266.2L908.3 267.8L908.3 269.3L908.3 270.8L908.3 272.3L908.3 273.8L908.3 275.4L908.3 276.9L908.3 278.5L908.3 280.0L908.3 281.6L908.3 283.1L908.3 284.7L908.3 286.3L908.3 287.8L908.3 289.4L908.3 291.0L908.3 292.6L908.3 294.2L908.3 295.8L908.3 297.4L908.3 298.9L908.3 300.4L908.3 302.0L908.3 303.5L908.3 305.0L908.3 306.5L908.3 308.1L908.3 309.6L908.3 311.1L908.3 312.7L908.3 314.2L908.3 315.8L908.3 317.4L908.3 318.9L908.3 320.5L908.3 322.1L908.3 323.6L908.3 325.2L908.3 326.8L908.3 328.4L908.3 330.0L908.3 331.6L908.3 333.2L908.3 334.8L908.3 336.4L908.3 338.0L908.3 339.6L908.3 341.2L908.3 342.9L908.3 344.5L908.3 346.0L908.3 347.5L908.3 349.0L908.3 350.5L908.3 352.0L908.3 353.5L908.3 355.1L908.3 356.6L908.3 358.1L908.3 359.6L908.3 361.1L908.3 362.7L908.3 364.2L908.3 365.7L908.3 367.3L908.3 368.8L908.3 370.4L908.3 371.9L908.3 373.4L908.3 375.0L908.3 376.5L908.3 378.1L908.3 379.6L908.3 381.2L908.3 382.7L908.3 384.3L908.3 385.8L908.3 387.4L908.3 388.9L908.3 390.5L908.3 392.1L908.3 393.6L908.3 395.2L908.3 396.7L908.3 398.3L908.3 399.9L908.3 401.4L908.2 403.0L908.2 404.6L908.2 406.1L908.2 407.7L908.2 409.3L908.2 410.8L908.2 412.4L908.2 414.0L908.2 415.5L908.2 417.1L908.2 418.7L908.2 420.2L908.2 421.8L908.2 423.4L908.2 424.9L908.2 426.5L908.2 428.1L908.2 429.6L908.2 431.2L908.2 432.8L908.2 434.3L908.2 435.9L908.2 437.4L908.2 439.0L908.2 440.6L908.2 442.1L908.2 443.7L908.2 445.2L908.2 446.8L908.2 448.4L908.2 449.9L908.2 451.5L908.2 453.0L908.2 454.6L908.2 456.1L908.2 457.7L908.2 459.2L908.2 460.8L908.2 462.3L908.2 463.8L908.2 465.4L908.2 466.9L908.2 468.5L908.2 470.0L908.2 471.5L908.2 473.1L908.2 474.6L908.2 476.1L908.2 477.6L908.2 479.2L908.2 480.7L908.2 482.2L908.2 483.7L908.2 485.2L908.2 486.7L908.2 488.2L908.2 489.7L908.2 491.2L908.2 492.9L908.2 494.5L908.2 496.1L908.2 497.7L908.2 499.3L908.1 500.9L908.1 502.5L908.1 504.2L908.1 505.7L908.1 507.3L908.1 508.9L908.1 510.5L908.1 512.1L908.1 513.7L908.1 515.3L908.1 516.8L908.1 518.4L908.1 520.0L908.1 521.5L908.1 523.1L908.1 524.6L908.1 526.2L908.1 527.7L908.1 529.2L908.1 530.8L908.1 532.3L908.1 533.8L908.1 535.3L908.1 536.9L908.1 538.4L908.1 539.9L908.1 541.4L908.1 543.0L908.1 544.6L908.1 546.2L908.1 547.8L908.1 549.4L908.0 551.0L908.0 552.5L908.0 554.1L908.0 555.7L908.0 557.2L908.0 558.8L908.0 560.3L908.0 561.9L908.0 563.4L908.0 564.9L908.0 566.5L908.0 568.0L908.0 569.5L908.0 571.0L908.0 572.6L908.0 574.2L908.0 575.8L908.0 577.4L908.0 579.0L908.0 580.5L908.0 582.1L907.9 583.6L907.9 585.2L907.9 586.7L907.9 588.3L907.9 589.8L907.9 591.3L907.9 592.8L907.9 594.3L907.9 595.9L907.9 597.5L907.9 599.1L907.9 600.6L907.9 602.2L907.9 603.7L907.8 605.3L907.8 606.8L907.8 608.3L907.8 609.8L907.8 611.3L907.8 612.9L907.8 614.5L907.8 616.1L907.8 617.6L907.8 619.2L907.8 620.7L907.7 622.3L907.7 623.8L907.7 625.3L907.7 626.9L907.7 628.5L907.7 630.0L907.7 631.6L907.7 633.1L907.6 634.7L907.6 636.2L907.6 637.7L907.6 639.3L907.6 640.8L907.6 642.4L907.6 643.9L907.5 645.5L907.5 647.0L907.5 648.5L907.5 650.1L907.5 651.6L907.5 653.2L907.4 654.7L907.4 656.2L907.4 657.7L907.4 659.3L907.4 660.9L907.3 662.4L907.3 663.9L907.3 665.4L907.3 667.0L907.2 668.5L907.2 670.1L907.2 671.6L907.1 673.1L907.1 674.7L907.1 676.2L907.0 677.7L907.0 679.2L907.0 680.8L906.9 682.3L906.9 683.8L906.9 685.3L906.8 686.9L906.8 688.4L906.7 689.9L906.7 691.5L906.6 693.0L906.6 694.5L906.5 696.1L906.5 697.6L906.4 699.1L906.3 700.6L906.3 702.2L906.2 703.7L906.1 705.2L906.1 706.7L906.0 708.2L905.9 709.7L905.8 711.3L905.7 712.8L905.6 714.3L905.5 715.8L905.4 717.4L905.3 718.9L905.1 720.4L905.0 721.9L904.9 723.4L904.7 725.0L904.6 726.5L904.4 728.0L904.2 729.5L904.0 731.0L903.8 732.5L903.6 734.0L903.3 735.5L903.0 737.0L902.8 738.5L902.4 740.0L902.1 741.4L901.8 742.9L901.4 744.4L900.9 745.9L900.5 747.3L900.0 748.7L899.4 750.1L898.9 751.5L898.2 752.9L897.5 754.3L896.8 755.6L896.0 756.9L895.1 758.1L894.2 759.3L893.3 760.5L892.3 761.6L891.2 762.7L890.0 763.7L888.9 764.7L887.7 765.6L886.4 766.5L885.1 767.3L883.8 768.0L882.5 768.8L881.1 769.4L879.7 770.1L878.4 770.7L876.9 771.3L875.5 771.8L874.1 772.3L872.6 772.8L871.2 773.3L869.8 773.7L868.3 774.1L866.8 774.5L865.3 774.9L863.8 775.3L862.4 775.6L860.8 775.9L859.3 776.3L857.8 776.6L856.3 776.9L854.8 777.1L853.3 777.4L851.8 777.7L850.3 777.9L848.8 778.2L847.2 778.4L845.7 778.6L844.1 778.8L842.6 779.0L841.1 779.3L839.5 779.5L838.0 779.6L836.5 779.8L834.9 780.0L833.4 780.2L831.8 780.4L830.3 780.5L828.8 780.7L827.2 780.8L825.7 781.0L824.1 781.2L822.6 781.3L821.1 781.4L819.6 781.6L818.0 781.7L816.4 781.8L814.9 782.0L813.4 782.1L811.8 782.2L810.3 782.3L808.7 782.5L807.0 782.6L805.5 782.7L804.0 782.8L802.5 782.9L800.9 783.0L799.3 783.1L797.7 783.2L796.1 783.3L794.6 783.4L793.0 783.5L791.5 783.6L789.9 783.7L788.3 783.8L786.7 783.9L785.1 784.0L783.5 784.1L782.0 784.1L780.5 784.2L779.0 784.3L777.4 784.4L775.9 784.5L774.3 784.5L772.7 784.6L771.1 784.7L769.5 784.8L767.8 784.9L766.2 784.9L764.5 785.0L763.0 785.1L761.5 785.1L760.0 785.2L758.4 785.3L756.8 785.3L755.3 785.4L753.7 785.5L752.1 785.5L750.5 785.6L748.9 785.7L747.2 785.7L745.6 785.8L743.9 785.8L742.2 785.9L740.5 786.0L739.0 786.0L737.5 786.1L736.0 786.1L734.4 786.2L732.9 786.2L731.3 786.3L729.8 786.3L728.2 786.4L726.6 786.4L725.0 786.5L723.4 786.5L721.8 786.6L720.2 786.6L718.5 786.7L716.9 786.7L715.2 786.8L713.5 786.8L711.9 786.9L710.2 786.9L708.5 787.0L706.8 787.0L705.1 787.1L703.6 787.1L702.1 787.1L700.5 787.2L699.0 787.2L697.5 787.3L695.9 787.3L694.4 787.3L692.8 787.4L691.3 787.4L689.7 787.5L688.1 787.5L686.5 787.5L684.9 787.6L683.3 787.6L681.7 787.6L680.1 787.7L678.5 787.7L676.9 787.8L675.2 787.8L673.6 787.8L672.0 787.9L670.3 787.9L668.6 787.9L667.0 788.0L665.3 788.0L663.6 788.0L662.0 788.1L660.3 788.1L658.6 788.1L656.9 788.2L655.2 788.2L653.5 788.2L651.7 788.3L650.0 788.3L648.3 788.3L646.5 788.4L644.8 788.4L643.1 788.4L641.6 788.5L640.1 788.5L638.5 788.5L637.0 788.6L635.5 788.6L634.0 788.6L632.5 788.6L630.9 788.7L629.4 788.7L627.9 788.7L626.3 788.7L624.8 788.8L623.2 788.8L621.7 788.8L620.1 788.8L618.6 788.9L617.0 788.9L615.5 788.9L613.9 788.9L612.3 789.0L610.8 789.0L609.2 789.0L607.6 789.0L606.0 789.1L604.4 789.1L602.9 789.1L601.3 789.1L599.7 789.1L598.1 789.2L596.5 789.2L594.9 789.2L593.3 789.2L591.7 789.3L590.1 789.3L588.5 789.3L586.9 789.3L585.2 789.4L583.6 789.4L582.0 789.4L580.4 789.4L578.8 789.4L577.1 789.5L575.5 789.5L573.9 789.5L572.3 789.5L570.6 789.5L569.0 789.6L567.4 789.6L565.7 789.6L564.1 789.6L562.5 789.6L560.8 789.7L559.2 789.7L557.5 789.7L555.9 789.7L554.2 789.7L552.6 789.8L551.0 789.8L549.3 789.8L547.7 789.8L546.0 789.8L544.4 789.8L542.7 789.9L541.1 789.9L539.4 789.9L537.8 789.9L536.1 789.9L534.5 789.9L532.8 790.0L531.2 790.0L529.5 790.0L527.9 790.0L526.2 790.0L524.5 790.0L522.9 790.1L521.2 790.1L519.6 790.1L517.9 790.1L516.3 790.1L514.6 790.1L513.0 790.2L511.3 790.2L509.7 790.2L508.1 790.2L506.4 790.2L504.8 790.2L503.1 790.2L501.5 790.3L499.8 790.3L498.2 790.3L496.5 790.3L494.9 790.3L493.3 790.3L491.6 790.3L490.0 790.4L488.4 790.4L486.7 790.4L485.1 790.4L483.5 790.4L481.8 790.4L480.2 790.4L478.6 790.4L477.0 790.5L475.4 790.5L473.7 790.5L472.1 790.5L470.5 790.5L468.9 790.5L467.3 790.5L465.7 790.5L464.1 790.5L462.5 790.6L460.9 790.6L459.3 790.6L457.7 790.6L456.1 790.6L454.5 790.6L452.9 790.6L451.3 790.6L449.8 790.6L448.2 790.6L446.6 790.7L445.0 790.7L443.5 790.7L441.9 790.7L440.3 790.7L438.8 790.7L437.2 790.7L435.7 790.7L434.1 790.7L432.6 790.7L431.0 790.7L429.5 790.7L428.0 790.8L426.4 790.8L424.9 790.8L423.4 790.8L421.9 790.8L420.4 790.8L418.8 790.8L417.3 790.8L415.8 790.8L414.3 790.8L412.6 790.8L410.8 790.8L409.1 790.8L407.4 790.8L405.7 790.9L403.9 790.9L402.2 790.9L400.5 790.9L398.8 790.9L397.1 790.9L395.5 790.9L393.8 790.9L392.1 790.9L390.4 790.9L388.8 790.9L387.1 790.9L385.5 790.9L383.8 790.9L382.2 790.9L380.5 790.9L378.9 790.9L377.3 790.9L375.7 790.9L374.1 790.9L372.5 790.9L370.9 790.9L369.3 791.0L367.7 791.0L366.2 791.0L364.6 791.0L363.1 791.0L361.5 791.0L360.0 791.0L358.4 791.0L356.9 791.0L355.4 791.0L353.9 791.0L352.4 791.0L350.7 791.0L348.9 791.0L347.3 791.0L345.6 791.0L343.9 791.0L342.2 791.0L340.6 791.0L338.9 791.0L337.3 791.0L335.7 791.0L334.1 791.0L332.4 791.0L330.8 791.0L329.3 790.9L327.7 790.9L326.1 790.9L324.6 790.9L323.0 790.9L321.5 790.9L319.9 790.9L318.4 790.9L316.9 790.9L315.2 790.9L313.6 790.9L311.9 790.9L310.3 790.9L308.6 790.9L307.0 790.9L305.4 790.9L303.8 790.9L302.2 790.9L300.6 790.8L299.1 790.8L297.5 790.8L296.0 790.8L294.5 790.8L293.0 790.8L291.3 790.8L289.6 790.8L288.0 790.8L286.4 790.7L284.8 790.7L283.2 790.7L281.6 790.7L280.1 790.7L278.5 790.7L277.0 790.7L275.5 790.6L273.8 790.6L272.2 790.6L270.6 790.6L269.0 790.6L267.4 790.6L265.9 790.5L264.3 790.5L262.8 790.5L261.3 790.5L259.6 790.5L258.0 790.4L256.5 790.4L254.9 790.4L253.3 790.4L251.8 790.3L250.3 790.3L248.7 790.3L247.1 790.2L245.5 790.2L244.0 790.2L242.5 790.1L241.0 790.1L239.4 790.1L237.8 790.0L236.3 790.0L234.7 790.0L233.1 789.9L231.6 789.9L230.0 789.8L228.5 789.8L226.9 789.7L225.3 789.7L223.8 789.6L222.3 789.6L220.7 789.5L219.2 789.5L217.6 789.4L216.1 789.3L214.5 789.3L213.0 789.2L211.5 789.1L210.0 789.1L208.4 789.0L206.9 788.9L205.3 788.8L203.8 788.7L202.3 788.6L200.8 788.5L199.2 788.4L197.7 788.3L196.2 788.2L194.7 788.1L193.1 787.9L191.6 787.8L190.1 787.7L188.5 787.5L187.0 787.3L185.5 787.2L184.0 787.0L182.5 786.8L180.9 786.6L179.5 786.3L178.0 786.1L176.5 785.8L175.0 785.5L173.5 785.2L172.0 784.9L170.5 784.5L169.1 784.1L167.6 783.6L166.2 783.1L164.8 782.5L163.4 781.8L162.1 781.1L160.8 780.3L159.6 779.4L158.5 778.4L157.4 777.4L156.5 776.2L155.6 775.0L154.8 773.7L154.2 772.3L153.6 770.9L153.1 769.5L152.7 768.0L152.3 766.6L152.0 765.1L151.7 763.6L151.4 762.1L151.2 760.6L151.0 759.1L150.8 757.6L150.7 756.1L150.5 754.6L150.4 753.1L150.3 751.6L150.2 750.1L150.1 748.6L150.0 747.1L149.9 745.6L149.8 744.1L149.8 742.6L149.7 741.0L149.6 739.5L149.6 738.0L149.5 736.5L149.5 735.0L149.4 733.4L149.4 731.9L149.4 730.4L149.3 728.9L149.3 727.4L149.3 725.8L149.2 724.3L149.2 722.8L149.2 721.3L149.2 719.7L149.1 718.2L149.1 716.7L149.1 715.1L149.1 713.6L149.1 712.1L149.0 710.6L149.0 709.0L149.0 707.5L149.0 706.0L149.0 704.4L149.0 702.9L148.9 701.4L148.9 699.9L148.9 698.3L148.9 696.8L148.9 695.3L148.9 693.8L148.9 692.2L148.9 690.7L148.9 689.1L148.8 687.6L148.8 686.1L148.8 684.5L148.8 683.0L148.8 681.5L148.8 679.9L148.8 678.4L148.8 676.9L148.8 675.3L148.8 673.8L148.8 672.2L148.8 670.7L148.8 669.2L148.7 667.6L148.7 666.1L148.7 664.6L148.7 663.0L148.7 661.5L148.7 660.0L148.7 658.4L148.7 656.9L148.7 655.4L148.7 653.9L148.7 652.3L148.7 650.8L148.7 649.2L148.7 647.7L148.7 646.2L148.7 644.7L148.7 643.1L148.7 641.6L148.7 640.0L148.7 638.4L148.7 636.9L148.7 635.4L148.7 633.9L148.6 632.4L148.6 630.8L148.6 629.2L148.6 627.7L148.6 626.1L148.6 624.6L148.6 623.1L148.6 621.5L148.6 620.0L148.6 618.5L148.6 616.9L148.6 615.4L148.6 613.8L148.6 612.2L148.6 610.7L148.6 609.2L148.6 607.7L148.6 606.1L148.6 604.6L148.6 603.1L148.6 601.5L148.6 599.9L148.6 598.4L148.6 596.8L148.6 595.2L148.6 593.6L148.6 592.1L148.6 590.6L148.6 589.1L148.6 587.5L148.6 586.0L148.6 584.5L148.6 582.9L148.6 581.4L148.6 579.8L148.6 578.2L148.6 576.6L148.6 575.1L148.6 573.5L148.6 571.9L148.6 570.4L148.6 568.8L148.6 567.3L148.6 565.8L148.6 564.3L148.6 562.8L148.6 561.2L148.6 559.7L148.6 558.1L148.6 556.6L148.6 555.0L148.6 553.4L148.6 551.9L148.6 550.3L148.6 548.7L148.6 547.1L148.5 545.5L148.5 543.9L148.5 542.3L148.5 540.7L148.5 539.2L148.5 537.7L148.5 536.2L148.5 534.6L148.5 533.1L148.5 531.6L148.5 530.1L148.5 528.5L148.5 527.0L148.5 525.5L148.5 523.9L148.5 522.4L148.5 520.8L148.5 519.2L148.5 517.7L148.5 516.1L148.5 514.5L148.5 513.0L148.5 511.4L148.5 509.8L148.5 508.2L148.5 506.6L148.5 505.0L148.5 503.4L148.5 501.8L148.5 500.2L148.5 498.6L148.5 497.0L148.5 495.4L148.5 493.7L148.5 492.1L148.5 490.6L148.5 489.1L148.5 487.6L148.5 486.1L148.5 484.6L148.5 483.1L148.5 481.6L148.5 480.0L148.5 478.5L148.5 477.0L148.5 475.5L148.5 473.9L148.5 472.4L148.5 470.9L148.5 469.4L148.5 467.8L148.5 466.3L148.5 464.7L148.5 463.2L148.5 461.7L148.5 460.1L148.5 458.6L148.5 457.0L148.5 455.5L148.5 453.9L148.5 452.4L148.5 450.8L148.5 449.3L148.5 447.7L148.5 446.2L148.5 444.6L148.5 443.0L148.5 441.5L148.5 439.9L148.5 438.4L148.5 436.8L148.5 435.2L148.5 433.7L148.5 432.1L148.5 430.5L148.5 429.0L148.5 427.4L148.5 425.8L148.5 424.3L148.5 422.7L148.5 421.1L148.5 419.6L148.5 418.0L148.5 416.4L148.5 414.9L148.5 413.3L148.5 411.7L148.5 410.2L148.5 408.6L148.5 407.0L148.5 405.5L148.5 403.9L148.5 402.3L148.5 400.8L148.5 399.2L148.5 397.7L148.5 396.1L148.5 394.5L148.5 393.0L148.5 391.4L148.5 389.9L148.5 388.3L148.5 386.7L148.5 385.2L148.5 383.6L148.5 382.1L148.5 380.5L148.5 379.0L148.5 377.4L148.5 375.9L148.5 374.3L148.5 372.8L148.5 371.3L148.5 369.7L148.5 368.2L148.5 366.6L148.5 365.1L148.5 363.6L148.5 362.0L148.5 360.5L148.5 359.0L148.5 357.5L148.5 355.9L148.5 354.4L148.5 352.9L148.5 351.4L148.5 349.9L148.5 348.4L148.5 346.9L148.5 345.4L148.5 343.9L148.5 342.2L148.5 340.6L148.5 339.0L148.5 337.4L148.5 335.8L148.5 334.2L148.5 332.6L148.5 331.0L148.5 329.4L148.5 327.8L148.5 326.2L148.5 324.6L148.5 323.0L148.5 321.5L148.5 319.9L148.5 318.3L148.5 316.8L148.5 315.2L148.5 313.6L148.5 312.1L148.5 310.6L148.5 309.0L148.5 307.5L148.5 305.9L148.5 304.4L148.5 302.9L148.5 301.4L148.5 299.9L148.5 298.4L148.5 296.9L148.5 295.2L148.5 293.6L148.5 292.0L148.5 290.4L148.5 288.9L148.5 287.3L148.5 285.7L148.5 284.1L148.5 282.6L148.5 281.0L148.5 279.4L148.5 277.9L148.5 276.4L148.5 274.8L148.5 273.3L148.5 271.8L148.5 270.3L148.5 268.8L148.5 267.2L148.5 265.6L148.5 264.0L148.5 262.4L148.5 260.8L148.5 259.2L148.5 257.7L148.5 256.1L148.5 254.6L148.5 253.0L148.5 251.5L148.5 250.0L148.5 248.5L148.5 247.0L148.5 245.4L148.5 243.8L148.5 242.2L148.5 240.7L148.5 239.1L148.5 237.6L148.5 236.0L148.5 234.5L148.5 233.0L148.5 231.5L148.5 230.0L148.5 228.4L148.5 226.8L148.5 225.2L148.5 223.7L148.5 222.2L148.5 220.6L148.5 219.1L148.5 217.6L148.5 216.0L148.5 214.4L148.5 212.9L148.5 211.3L148.5 209.8L148.5 208.3L148.5 206.8L148.5 205.2L148.5 203.6L148.5 202.1L148.5 200.5L148.5 199.0L148.5 197.5L148.5 195.9L148.5 194.4L148.5 192.8L148.5 191.3L148.5 189.8L148.5 188.3L148.5 186.7L148.5 185.1L148.5 183.6L148.5 182.1L148.5 180.5L148.5 179.0L148.5 177.5L148.5 175.9L148.5 174.4L148.5 172.8L148.5 171.3L148.5 169.8L148.5 168.2L148.5 166.7L148.5 165.2L148.5 163.6L148.5 162.1L148.5 160.6L148.5 159.0L148.5 157.5L148.5 156.0L148.5 154.4L148.5 152.9L148.5 151.4L148.5 149.8L148.5 148.3L148.5 146.8L148.5 145.3L148.5 143.8L148.5 142.3L148.5 140.7L148.5 139.2L148.5 137.7L148.5 136.1L148.5 134.6L148.5 133.1L148.5 131.6L148.5 130.1L148.5 128.6L148.5 127.0L148.5 125.5L148.5 124.0L148.5 122.5L148.5 121.0L148.5 119.5L148.5 118.0L148.5 116.4L148.6 114.9L148.6 113.4L148.6 111.9L148.6 110.4L148.6 108.9L148.6 107.3L148.6 105.8L148.6 104.3L148.6 102.8L148.6 101.3L148.6 99.8L148.6 98.3L148.6 96.8L148.6 95.3L148.7 93.8L148.7 92.2L148.7 90.7L148.7 89.2L148.7 87.7L148.8 86.2L148.8 84.7L148.8 83.2L148.9 81.7L149.0 80.2L149.1 78.7L149.2 77.2L149.4 75.7L149.7 74.2L150.3 72.8L151.2 71.6L152.4 70.8L153.8 70.2L155.3 69.8L156.8 69.5L158.3 69.3L159.8 69.2L161.3 69.0L162.8 68.9L164.3 68.8L165.8 68.7L167.3 68.6L168.8 68.6L170.3 68.5L171.9 68.5L173.4 68.4L174.9 68.4L176.4 68.3L177.9 68.3L179.4 68.3L181.0 68.2L182.5 68.2L184.0 68.2L185.5 68.2L187.1 68.1L188.6 68.1L190.1 68.1L191.7 68.1L193.2 68.0L194.8 68.0L196.3 68.0L197.8 68.0L199.4 68.0L200.9 68.0L202.4 67.9L203.9 67.9L205.5 67.9L207.0 67.9L208.5 67.9L210.1 67.9L211.6 67.9L213.2 67.9L214.7 67.8L216.2 67.8L217.8 67.8L219.3 67.8L220.9 67.8L222.4 67.8L223.9 67.8L225.5 67.8L227.1 67.8L228.7 67.8L230.2 67.8L231.7 67.7L233.3 67.7L234.9 67.7L236.4 67.7L238.0 67.7L239.6 67.7L241.2 67.7L242.7 67.7L244.2 67.7L245.7 67.7L247.3 67.7L248.9 67.7L250.5 67.7L252.0 67.7L253.6 67.6L255.1 67.6L256.7 67.6L258.3 67.6L259.9 67.6L261.5 67.6L263.0 67.6L264.5 67.6L266.1 67.6L267.7 67.6L269.2 67.6L270.8 67.6L272.4 67.6L274.1 67.6L275.6 67.6L277.1 67.6L278.6 67.6L280.2 67.6L281.7 67.6L283.3 67.6L284.9 67.6L286.5 67.6L288.1 67.5L289.8 67.5L291.4 67.5L293.1 67.5L294.6 67.5L296.1 67.5L297.6 67.5L299.2 67.5L300.8 67.5L302.3 67.5L303.9 67.5L305.5 67.5L307.1 67.5L308.7 67.5L310.4 67.5L312.0 67.5L313.7 67.5L315.4 67.5L317.1 67.5L318.6 67.5L320.1 67.5L321.6 67.5L323.1 67.5L324.7 67.5L326.3 67.5L327.8 67.5L329.4 67.5L331.0 67.5L332.6 67.5L334.2 67.5L335.8 67.5L337.4 67.5L339.1 67.4L340.7 67.4L342.4 67.4L344.0 67.4L345.7 67.4L347.4 67.4L349.1 67.4L350.8 67.4L352.5 67.4L354.0 67.4L355.5 67.4L357.1 67.4L358.6 67.4L360.1 67.4L361.7 67.4L363.2 67.4L364.8 67.4L366.3 67.4L367.9 67.4L369.5 67.4L371.1 67.4L372.7 67.4L374.3 67.4L375.9 67.4L377.5 67.4L379.1 67.4L380.7 67.4L382.3 67.4L384.0 67.4L385.6 67.4L387.3 67.4L388.9 67.4L390.6 67.4L392.3 67.4L393.9 67.4L395.6 67.4L397.3 67.4L399.0 67.4L400.7 67.4L402.4 67.4L404.1 67.4L405.8 67.4L407.6 67.4L409.3 67.4L411.0 67.4L412.8 67.4L414.5 67.4L416.0 67.4L417.5 67.4L419.0 67.4L420.5 67.4L422.1 67.3L423.6 67.3L425.1 67.3L426.6 67.3L428.2 67.3L429.7 67.3L431.2 67.3L432.8 67.3L434.3 67.3L435.9 67.3L437.4 67.3L439.0 67.3L440.5 67.3L442.1 67.3L443.7 67.3L445.2 67.3L446.8 67.3L448.4 67.3L450.0 67.3L451.5 67.3L453.1 67.3L454.7 67.3L456.3 67.3L457.9 67.3L459.5 67.3L461.1 67.3L462.7 67.3L464.3 67.3L465.9 67.3L467.5 67.3L469.1 67.3L470.7 67.3L472.3 67.3L473.9 67.3L475.5 67.3L477.2 67.3L478.8 67.3L480.4 67.3L482.0 67.3L483.7 67.3L485.3 67.3L486.9 67.3L488.6 67.3L490.2 67.3L491.8 67.3L493.5 67.3L495.1 67.3L496.7 67.3L498.4 67.3L500.0 67.3L501.7 67.3L503.3 67.3L505.0 67.3L506.6 67.3L508.2 67.3L509.9 67.3L511.5 67.3L513.2 67.3L514.8 67.3L516.5 67.3L518.1 67.3L519.8 67.3L521.4 67.3L523.1 67.3L524.7 67.3L526.4 67.3L528.0 67.3L529.7 67.3L531.3 67.3L533.0 67.3L534.7 67.3L536.3 67.3L538.0 67.3L539.6 67.3L541.3 67.3L542.9 67.3L544.6 67.3L546.2 67.3L547.9 67.3L549.5 67.3L551.1 67.3L552.8 67.3L554.4 67.3L556.1 67.3L557.7 67.3L559.4 67.3L561.0 67.3L562.6 67.3L564.3 67.3L565.9 67.3L567.6 67.3L569.2 67.3L570.8 67.2L572.4 67.2L574.1 67.2L575.7 67.2L577.3 67.2L579.0 67.2L580.6 67.2L582.2 67.2L583.8 67.2L585.4 67.2L587.0 67.2L588.7 67.2L590.3 67.2L591.9 67.2L593.5 67.2L595.1 67.2L596.7 67.2L598.3 67.2L599.9 67.2L601.5 67.2L603.0 67.2L604.6 67.2L606.2 67.2L607.8 67.2L609.4 67.2L610.9 67.2L612.5 67.2L614.1 67.2L615.6 67.2L617.2 67.2L618.8 67.2L620.3 67.2L621.9 67.2L623.4 67.2L625.0 67.2L626.5 67.2L628.1 67.2L629.6 67.2L631.1 67.2L632.6 67.2L634.2 67.2L635.7 67.2L637.2 67.2L638.7 67.2L640.2 67.2L641.7 67.2L643.2 67.2L645.0 67.2L646.7 67.2L648.5 67.2L650.2 67.2L651.9 67.2L653.6 67.2L655.3 67.2L657.0 67.2L658.7 67.2L660.4 67.2L662.1 67.2L663.8 67.2L665.5 67.2L667.2 67.2L668.8 67.2L670.5 67.2L672.1 67.2L673.8 67.2L675.4 67.2L677.0 67.2L678.7 67.2L680.3 67.2L681.9 67.2L683.5 67.2L685.1 67.2L686.7 67.2L688.3 67.2L689.8 67.2L691.4 67.2L693.0 67.2L694.5 67.2L696.1 67.2L697.6 67.2L699.2 67.2L700.7 67.2L702.2 67.2L703.7 67.2L705.2 67.2L706.9 67.2L708.6 67.2L710.3 67.2L712.0 67.2L713.7 67.2L715.4 67.2L717.0 67.2L718.7 67.2L720.3 67.2L721.9 67.2L723.5 67.2L725.1 67.2L726.7 67.2L728.3 67.2L729.9 67.2L731.5 67.2L733.0 67.2L734.6 67.2L736.1 67.2L737.7 67.2L739.2 67.2Z" stroke-width="2.9" stroke-dasharray="1.3 6.5"/>
</g>
<g fill="none" stroke="#000" stroke-width="2.25" stroke-linejoin="round">
<path d="M131.2 65.6H144.85V825.5H131.2M131.2 445.6H144.85"/>
<path d="M148.4 839.2V825.3H908.5V839.2M528.5 825.3V839.2"/>
</g>
<g font-size="34.5" fill="#000" stroke="#000" stroke-width="0.35">
<text x="125.4" y="79.3" text-anchor="end">1.0</text>
<text x="125.4" y="459.3" text-anchor="end">0.5</text>
<text x="125.4" y="839.4" text-anchor="end">0.0</text>
<text x="148.0" y="872.3" text-anchor="middle">1.0</text>
<text x="528.0" y="872.3" text-anchor="middle">0.5</text>
<text x="908.0" y="872.3" text-anchor="middle">0.0</text>
<text x="528.7" y="908.7" text-anchor="middle" textLength="152.7" lengthAdjust="spacingAndGlyphs">Specificity</text>
<text transform="translate(55 445.2) rotate(-90)" text-anchor="middle" textLength="152.3" lengthAdjust="spacingAndGlyphs">Sensitivity</text>
</g>
<text x="168.2" y="50.5" font-size="34.4" fill="#1e2d53" stroke="#1e2d53" stroke-width="0.35" textLength="720" lengthAdjust="spacingAndGlyphs">SROC with Prediction &amp; Confidence Contours</text>
<rect x="505.6" y="472.4" width="391.95" height="342.8" fill="#fff" stroke="#000" stroke-width="2.5"/>
<circle cx="539.1" cy="507.6" r="16.2" fill="#ebebeb" stroke="#000" stroke-width="3"/>
<path d="M523.3 573.5L541.3 555.5L559.3 573.5L541.3 591.5Z" fill="#90353b"/>
<path d="M527 647.6H555.2" stroke="#000" stroke-width="4"/>
<path d="M527 709.55H555.2" stroke="#000" stroke-width="2.1"/>
<path d="M527 771.5H555" stroke="#000" stroke-width="4.2" stroke-dasharray="1.9 9.2"/>
<g font-size="24.15" fill="#000" stroke="#000" stroke-width="0.2">
<text x="586" y="517.2">Observed Data</text>
<text x="586" y="558.8">Summary Operating Point</text>
<text x="586" y="582.8">SENS = 0.83 [0.67 - 0.92]</text>
<text x="586" y="606.8">SPEC = 0.42 [0.12 - 0.80]</text>
<text x="586" y="644.6">SROC Curve</text>
<text x="586" y="668.5">AUC = 0.78 [0.74 - 0.81]</text>
<text x="586" y="718.7">95% Confidence Contour</text>
<text x="586" y="780.7">95% Prediction Contour</text>
</g>
</g>
</g>
<g clip-path="url(#clipB)">
<g id="panelB" transform="translate(991.6 0)">
<rect x="146" y="65.4" width="762.6" height="760.3" fill="#fff"/>
<circle cx="343.0" cy="276.5" r="11.1" fill="#ededed" stroke="#000" stroke-width="2.45"/>
<text x="343.0" y="281.8" font-size="13" text-anchor="middle" fill="#000" stroke="#000" stroke-width="0.3">1</text>
<circle cx="279.3" cy="363.4" r="11.1" fill="#ededed" stroke="#000" stroke-width="2.45"/>
<text x="279.3" y="368.7" font-size="13" text-anchor="middle" fill="#000" stroke="#000" stroke-width="0.3">2</text>
<circle cx="900.0" cy="124.5" r="11.1" fill="#ededed" stroke="#000" stroke-width="2.45"/>
<text x="900.0" y="129.8" font-size="13" text-anchor="middle" fill="#000" stroke="#000" stroke-width="0.3">3</text>
<circle cx="443.1" cy="179.6" r="11.1" fill="#ededed" stroke="#000" stroke-width="2.45"/>
<text x="443.1" y="184.9" font-size="13" text-anchor="middle" fill="#000" stroke="#000" stroke-width="0.3">4</text>
<path d="M555.5 203.8L567.9 191.4L580.3 203.8L567.9 216.20000000000002Z" fill="#90353b"/>
<g clip-path="url(#plotclip)" fill="none" stroke="#000">
<path d="M148.4 825.7L148.4 789.4L148.4 787.4L148.4 785.4L148.4 783.4L148.4 781.4L148.4 779.4L148.4 777.4L148.4 775.4L148.4 773.4L148.4 771.4L148.4 769.4L148.4 767.4L148.4 765.4L148.4 763.4L148.4 761.4L148.5 759.4L148.5 757.4L148.5 755.4L148.5 753.4L148.5 751.3L148.5 749.3L148.5 747.3L148.5 745.3L148.5 743.3L148.5 741.3L148.5 739.3L148.5 737.3L148.6 735.3L148.6 733.3L148.6 731.3L148.6 729.3L148.6 727.3L148.6 725.2L148.6 723.2L148.7 721.2L148.7 719.2L148.7 717.2L148.7 715.2L148.7 713.2L148.8 711.2L148.8 709.1L148.8 707.1L148.8 705.1L148.9 703.1L148.9 701.1L148.9 699.1L148.9 697.1L149.0 695.1L149.0 693.1L149.0 691.0L149.1 689.0L149.1 687.0L149.1 685.0L149.2 683.0L149.2 681.0L149.2 679.0L149.3 676.9L149.3 674.9L149.4 672.9L149.4 670.9L149.4 668.9L149.5 666.9L149.5 664.9L149.6 662.8L149.6 660.8L149.7 658.8L149.7 656.8L149.8 654.8L149.9 652.7L149.9 650.7L150.0 648.7L150.0 646.7L150.1 644.7L150.2 642.7L150.2 640.7L150.3 638.6L150.4 636.6L150.4 634.6L150.5 632.6L150.6 630.6L150.7 628.6L150.8 626.6L150.8 624.5L150.9 622.5L151.0 620.5L151.1 618.5L151.2 616.5L151.3 614.5L151.4 612.5L151.5 610.4L151.6 608.4L151.7 606.4L151.8 604.4L151.9 602.4L152.1 600.4L152.2 598.4L152.3 596.3L152.4 594.3L152.5 592.3L152.7 590.3L152.8 588.3L152.9 586.3L153.1 584.3L153.2 582.2L153.4 580.2L153.5 578.2L153.7 576.2L153.8 574.2L154.0 572.1L154.2 570.1L154.3 568.1L154.5 566.1L154.7 564.1L154.9 562.1L155.1 560.1L155.3 558.0L155.5 556.0L155.7 554.0L155.9 552.0L156.1 550.0L156.3 548.0L156.5 545.9L156.8 544.0L157.0 542.0L157.2 539.9L157.5 537.9L157.7 535.9L158.0 533.9L158.2 531.9L158.5 529.9L158.8 527.9L159.0 525.9L159.3 523.9L159.6 521.9L159.9 519.9L160.2 517.9L160.5 515.9L160.8 513.9L161.2 511.9L161.5 509.9L161.8 507.9L162.2 505.9L162.5 504.0L162.9 502.0L163.3 500.0L163.7 498.0L164.0 496.0L164.4 494.0L164.8 492.0L165.2 490.0L165.7 488.1L166.1 486.1L166.5 484.1L167.0 482.1L167.4 480.1L167.9 478.2L168.4 476.2L168.9 474.3L169.4 472.3L169.9 470.3L170.4 468.4L170.9 466.4L171.5 464.4L172.0 462.5L172.6 460.5L173.1 458.6L173.7 456.7L174.3 454.8L174.9 452.8L175.5 450.9L176.2 449.0L176.8 447.0L177.5 445.1L178.2 443.2L178.8 441.3L179.5 439.4L180.2 437.5L181.0 435.6L181.7 433.7L182.4 431.8L183.2 429.9L184.0 428.1L184.8 426.2L185.6 424.4L186.4 422.5L187.2 420.7L188.1 418.8L188.9 417.0L189.8 415.1L190.7 413.3L191.6 411.5L192.5 409.7L193.4 407.9L194.4 406.1L195.3 404.3L196.3 402.5L197.3 400.8L198.3 399.1L199.3 397.3L200.4 395.6L201.4 393.8L202.5 392.1L203.6 390.3L204.7 388.7L205.8 387.0L206.9 385.3L208.0 383.6L209.2 381.9L210.4 380.2L211.6 378.6L212.7 377.0L214.0 375.4L215.2 373.7L216.4 372.1L217.7 370.5L218.9 369.0L220.2 367.4L221.5 365.8L222.8 364.3L224.2 362.7L225.5 361.2L226.8 359.7L228.2 358.2L229.6 356.6L231.0 355.1L232.4 353.7L233.8 352.2L235.2 350.8L236.6 349.3L238.1 347.9L239.5 346.5L241.0 345.1L242.4 343.7L243.9 342.3L245.4 340.9L247.0 339.6L248.5 338.2L250.0 336.9L251.5 335.6L253.1 334.2L254.7 332.9L256.2 331.6L257.8 330.3L259.4 329.1L261.0 327.8L262.6 326.5L264.2 325.3L265.8 324.1L267.5 322.8L269.1 321.6L270.7 320.4L272.4 319.2L274.1 318.0L275.8 316.8L277.4 315.7L279.1 314.5L280.8 313.4L282.5 312.2L284.2 311.1L285.9 310.0L287.6 308.9L289.3 307.8L291.1 306.7L292.8 305.6L294.6 304.5L296.3 303.5L298.0 302.4L299.7 301.4L301.5 300.4L303.3 299.3L305.0 298.3L306.8 297.3L308.7 296.3L310.4 295.3L312.2 294.3L314.0 293.3L315.7 292.3L317.6 291.4L319.4 290.4L321.2 289.4L323.1 288.5L324.8 287.5L326.6 286.6L328.4 285.7L330.3 284.8L332.1 283.9L333.9 283.0L335.8 282.1L337.7 281.2L339.6 280.2L341.4 279.4L343.2 278.5L345.0 277.7L346.9 276.8L348.7 276.0L350.6 275.1L352.4 274.3L354.3 273.4L356.2 272.6L358.1 271.7L360.1 270.9L361.9 270.1L363.7 269.3L365.6 268.5L367.5 267.7L369.3 266.9L371.2 266.1L373.1 265.3L375.0 264.5L376.9 263.7L378.9 263.0L380.8 262.2L382.7 261.4L384.7 260.6L386.5 259.9L388.4 259.2L390.3 258.4L392.2 257.7L394.1 257.0L396.0 256.2L397.9 255.5L399.8 254.8L401.7 254.1L403.6 253.3L405.6 252.6L407.5 251.9L409.5 251.2L411.4 250.5L413.4 249.8L415.4 249.1L417.3 248.3L419.3 247.6L421.2 247.0L423.1 246.3L425.0 245.6L426.9 245.0L428.8 244.3L430.7 243.7L432.6 243.0L434.6 242.3L436.5 241.7L438.4 241.0L440.4 240.4L442.3 239.7L444.3 239.1L446.2 238.4L448.2 237.8L450.1 237.1L452.1 236.5L454.1 235.9L456.0 235.2L458.0 234.6L460.0 233.9L462.0 233.3L464.0 232.7L466.0 232.1L468.0 231.4L470.0 230.8L472.0 230.2L474.0 229.5L476.0 228.9L478.0 228.3L480.0 227.7L482.1 227.1L484.1 226.5L486.1 225.8L488.0 225.3L489.9 224.7L491.9 224.1L493.8 223.5L495.7 223.0L497.6 222.4L499.6 221.8L501.5 221.3L503.4 220.7L505.3 220.1L507.3 219.6L509.2 219.0L511.1 218.4L513.1 217.9L515.0 217.3L516.9 216.8L518.9 216.2L520.8 215.7L522.8 215.1L524.7 214.6L526.6 214.0L528.6 213.5L530.5 212.9L532.4 212.4L534.4 211.8L536.3 211.3L538.3 210.7L540.2 210.2L542.1 209.7L544.1 209.1L546.0 208.6L547.9 208.1L549.9 207.5L551.8 207.0L553.7 206.5L555.8 205.9L557.8 205.4L559.8 204.8L561.9 204.3L563.9 203.7L566.0 203.2L568.0 202.6L570.0 202.1L572.0 201.5L574.1 201.0L576.1 200.4L578.1 199.9L580.1 199.4L582.1 198.8L584.1 198.3L586.1 197.8L588.2 197.2L590.2 196.7L592.1 196.2L594.1 195.7L596.1 195.1L598.1 194.6L600.1 194.1L602.1 193.6L604.0 193.0L606.0 192.5L608.0 192.0L609.9 191.5L611.9 191.0L613.8 190.5L615.8 190.0L617.7 189.5L619.7 189.0L621.7 188.4L623.7 187.9L625.8 187.4L627.8 186.9L629.8 186.3L631.8 185.8L633.8 185.3L635.8 184.8L637.8 184.3L639.8 183.7L641.8 183.2L643.7 182.7L645.7 182.2L647.6 181.7L649.6 181.2L651.5 180.7L653.6 180.2L655.6 179.6L657.6 179.1L659.6 178.6L661.6 178.1L663.6 177.6L665.6 177.0L667.6 176.5L669.6 176.0L671.5 175.5L673.5 175.0L675.4 174.5L677.5 174.0L679.5 173.4L681.5 172.9L683.5 172.4L685.5 171.9L687.5 171.3L689.4 170.8L691.4 170.3L693.3 169.8L695.3 169.3L697.3 168.7L699.3 168.2L701.3 167.7L703.3 167.2L705.2 166.6L707.2 166.1L709.2 165.6L711.1 165.1L713.1 164.5L715.1 164.0L717.1 163.5L719.0 162.9L721.0 162.4L722.9 161.9L725.0 161.3L726.9 160.8L728.9 160.3L730.9 159.7L732.8 159.2L734.8 158.7L736.8 158.1L738.8 157.5L740.7 157.0L742.7 156.5L744.6 155.9L746.6 155.4L748.6 154.8L750.6 154.2L752.5 153.7L754.4 153.1L756.4 152.6L758.4 152.0L760.3 151.5L762.2 150.9L764.2 150.3L766.2 149.8L768.1 149.2L770.1 148.6L772.0 148.0L774.0 147.5L775.9 146.9L777.9 146.3L779.8 145.7L781.8 145.1L783.8 144.5L785.7 143.9L787.6 143.3L789.6 142.7L791.5 142.1L793.4 141.5L795.4 140.9L797.3 140.2L799.2 139.6L801.2 139.0L803.1 138.4L805.0 137.7L807.0 137.1L808.9 136.4L810.8 135.8L812.7 135.2L814.7 134.5L816.6 133.8L818.5 133.2L820.4 132.5L822.3 131.8L824.2 131.1L826.1 130.4L828.0 129.7L829.9 129.0L831.8 128.3L833.7 127.6L835.6 126.9L837.4 126.2L839.3 125.4L841.2 124.7L843.1 123.9L844.9 123.2L846.8 122.4L848.7 121.6L850.5 120.8L852.4 120.0L854.2 119.2L856.1 118.3L857.9 117.5L859.7 116.7L861.6 115.8L863.4 114.9L865.2 114.0L867.0 113.1L868.8 112.2L870.6 111.2L872.3 110.3L874.1 109.3L875.8 108.3L877.6 107.3L879.3 106.2L881.0 105.2L882.7 104.1L884.3 103.0L886.0 101.8L887.6 100.7L889.2 99.5L890.8 98.2L892.3 96.9L893.9 95.6L895.3 94.3L896.8 92.9L898.1 91.4L899.5 89.9L900.7 88.4L901.9 86.8L903.1 85.1L904.1 83.4L905.0 81.6L905.9 79.8L906.6 77.9L907.2 76.0L907.7 74.1L908.0 72.1L908.3 70.1L908.4 68.1L908.4 65.6" stroke-width="3.0" stroke-linejoin="round"/>
<path d="M907.1 71.3L907.6 72.7L907.7 74.2L907.7 75.7L907.7 77.2L907.6 78.7L907.6 80.2L907.6 81.7L907.5 83.2L907.5 84.7L907.4 86.2L907.4 87.7L907.3 89.2L907.2 90.7L907.2 92.2L907.1 93.7L907.1 95.2L907.0 96.7L906.9 98.2L906.8 99.7L906.8 101.2L906.7 102.7L906.6 104.2L906.5 105.7L906.5 107.2L906.4 108.7L906.3 110.2L906.2 111.7L906.1 113.2L906.0 114.7L905.9 116.2L905.8 117.7L905.7 119.2L905.6 120.7L905.5 122.2L905.4 123.7L905.3 125.2L905.2 126.6L905.1 128.1L905.0 129.6L904.9 131.1L904.8 132.6L904.6 134.1L904.5 135.6L904.4 137.1L904.3 138.6L904.1 140.1L904.0 141.6L903.9 143.1L903.8 144.6L903.6 146.1L903.5 147.6L903.3 149.1L903.2 150.6L903.0 152.1L902.9 153.6L902.7 155.1L902.6 156.6L902.4 158.1L902.3 159.6L902.1 161.1L902.0 162.6L901.8 164.0L901.6 165.5L901.4 167.0L901.3 168.5L901.1 170.0L900.9 171.5L900.7 173.0L900.5 174.5L900.4 176.0L900.2 177.5L900.0 179.0L899.8 180.4L899.6 181.9L899.4 183.4L899.2 184.9L899.0 186.4L898.7 187.9L898.5 189.4L898.3 190.9L898.1 192.3L897.9 193.8L897.6 195.3L897.4 196.8L897.2 198.3L896.9 199.8L896.7 201.3L896.4 202.7L896.2 204.2L895.9 205.7L895.7 207.2L895.4 208.7L895.1 210.1L894.9 211.6L894.6 213.1L894.3 214.6L894.0 216.0L893.8 217.5L893.5 219.0L893.2 220.5L892.9 221.9L892.6 223.4L892.3 224.9L892.0 226.4L891.6 227.8L891.3 229.3L891.0 230.8L890.7 232.2L890.4 233.7L890.0 235.2L889.7 236.6L889.3 238.1L889.0 239.6L888.6 241.0L888.3 242.5L887.9 243.9L887.5 245.4L887.2 246.9L886.8 248.3L886.4 249.8L886.0 251.2L885.6 252.7L885.2 254.1L884.8 255.6L884.4 257.0L884.0 258.5L883.6 259.9L883.2 261.4L882.8 262.8L882.3 264.3L881.9 265.7L881.4 267.1L881.0 268.6L880.5 270.0L880.1 271.5L879.6 272.9L879.1 274.3L878.7 275.7L878.2 277.2L877.7 278.6L877.2 280.0L876.7 281.4L876.2 282.8L875.7 284.3L875.2 285.7L874.7 287.1L874.1 288.5L873.6 289.9L873.1 291.3L872.5 292.7L872.0 294.1L871.4 295.5L870.8 296.9L870.3 298.3L869.7 299.7L869.1 301.1L868.5 302.4L867.9 303.8L867.3 305.2L866.7 306.6L866.1 308.0L865.5 309.3L864.9 310.7L864.2 312.1L863.6 313.4L862.9 314.8L862.3 316.1L861.6 317.5L861.0 318.8L860.3 320.2L859.6 321.5L858.9 322.9L858.2 324.2L857.5 325.6L856.8 326.9L856.1 328.2L855.4 329.5L854.7 330.9L853.9 332.2L853.2 333.5L852.5 334.8L851.7 336.1L851.0 337.4L850.2 338.7L849.4 340.0L848.7 341.3L847.9 342.6L847.1 343.8L846.3 345.1L845.5 346.4L844.7 347.7L843.9 348.9L843.0 350.2L842.2 351.5L841.4 352.7L840.5 354.0L839.7 355.2L838.8 356.4L838.0 357.7L837.1 358.9L836.3 360.1L835.4 361.4L834.5 362.6L833.6 363.8L832.7 365.0L831.8 366.2L830.9 367.4L830.0 368.6L829.1 369.8L828.1 371.0L827.2 372.2L826.3 373.4L825.3 374.5L824.4 375.7L823.4 376.9L822.5 378.0L821.5 379.2L820.5 380.3L819.5 381.5L818.6 382.6L817.6 383.8L816.6 384.9L815.6 386.0L814.6 387.1L813.6 388.2L812.6 389.4L811.5 390.5L810.5 391.6L809.5 392.7L808.4 393.8L807.4 394.9L806.4 395.9L805.3 397.0L804.3 398.1L803.2 399.2L802.1 400.2L801.1 401.3L800.0 402.4L798.9 403.4L797.8 404.5L796.7 405.5L795.6 406.5L794.5 407.6L793.4 408.6L792.3 409.6L791.2 410.6L790.1 411.6L789.0 412.7L787.9 413.7L786.7 414.7L785.6 415.7L784.5 416.6L783.3 417.6L782.2 418.6L781.0 419.6L779.9 420.6L778.7 421.5L777.6 422.5L776.4 423.5L775.2 424.4L774.1 425.4L772.9 426.3L771.7 427.3L770.5 428.2L769.4 429.1L768.2 430.1L767.0 431.0L765.8 431.9L764.6 432.8L763.4 433.7L762.2 434.6L761.0 435.5L759.8 436.5L758.6 437.3L757.3 438.2L756.1 439.1L754.9 440.0L753.7 440.9L752.5 441.8L751.2 442.6L750.0 443.5L748.7 444.4L747.5 445.2L746.3 446.1L745.0 446.9L743.8 447.8L742.5 448.6L741.3 449.5L740.0 450.3L738.8 451.2L737.5 452.0L736.3 452.8L735.0 453.6L733.7 454.5L732.5 455.3L731.2 456.1L729.9 456.9L728.6 457.7L727.4 458.5L726.1 459.3L724.8 460.1L723.5 460.9L722.2 461.7L720.9 462.5L719.7 463.3L718.4 464.0L717.1 464.8L715.8 465.6L714.5 466.4L713.2 467.1L711.9 467.9L710.6 468.6L709.3 469.4L708.0 470.2L706.7 470.9L705.4 471.7L704.1 472.4L702.7 473.1L701.4 473.9L700.1 474.6L698.8 475.4L697.5 476.1L696.1 476.8L694.8 477.6L693.5 478.3L692.2 479.0L690.8 479.7L689.5 480.4L688.2 481.1L686.8 481.8L685.5 482.6L684.2 483.3L682.8 484.0L681.5 484.7L680.2 485.4L678.8 486.1L677.5 486.8L676.1 487.4L674.8 488.1L673.5 488.8L672.1 489.5L670.8 490.2L669.4 490.9L668.1 491.5L666.7 492.2L665.4 492.9L664.0 493.5L662.7 494.2L661.3 494.9L659.9 495.5L658.6 496.2L657.2 496.8L655.9 497.5L654.5 498.2L653.1 498.8L651.8 499.5L650.4 500.1L649.1 500.7L647.7 501.4L646.3 502.0L644.9 502.7L643.6 503.3L642.2 503.9L640.8 504.6L639.5 505.2L638.1 505.8L636.7 506.5L635.3 507.1L634.0 507.7L632.6 508.3L631.2 509.0L629.8 509.6L628.5 510.2L627.1 510.8L625.7 511.4L624.3 512.0L622.9 512.6L621.6 513.2L620.2 513.9L618.8 514.5L617.4 515.1L616.0 515.7L614.6 516.3L613.3 516.9L611.9 517.5L610.5 518.1L609.1 518.6L607.7 519.2L606.3 519.8L604.9 520.4L603.5 521.0L602.1 521.6L600.7 522.2L599.3 522.8L597.9 523.3L596.6 523.9L595.2 524.5L593.8 525.1L592.4 525.7L591.0 526.2L589.6 526.8L588.2 527.4L586.8 528.0L585.4 528.5L584.0 529.1L582.6 529.7L581.1 530.2L579.7 530.8L578.3 531.4L576.9 531.9L575.6 532.5L574.2 533.0L572.8 533.6L571.4 534.2L570.0 534.7L568.6 535.3L567.2 535.8L565.8 536.4L564.3 536.9L562.9 537.5L561.5 538.0L560.1 538.6L558.7 539.1L557.3 539.7L555.9 540.2L554.5 540.8L553.1 541.3L551.7 541.8L550.3 542.4L548.8 542.9L547.4 543.5L546.0 544.0L544.6 544.6L543.2 545.1L541.8 545.6L540.4 546.2L538.9 546.7L537.5 547.2L536.1 547.8L534.7 548.3L533.3 548.8L531.9 549.4L530.4 549.9L529.0 550.4L527.6 551.0L526.2 551.5L524.8 552.0L523.4 552.5L521.9 553.1L520.5 553.6L519.1 554.1L517.7 554.6L516.3 555.2L514.9 555.7L513.4 556.2L512.0 556.7L510.6 557.2L509.2 557.8L507.8 558.3L506.4 558.8L505.0 559.3L503.6 559.8L502.1 560.3L500.7 560.9L499.3 561.4L497.9 561.9L496.4 562.4L495.0 562.9L493.6 563.4L492.2 563.9L490.7 564.5L489.3 565.0L487.9 565.5L486.5 566.0L485.1 566.5L483.6 567.0L482.2 567.5L480.8 568.0L479.4 568.5L478.0 569.0L476.5 569.6L475.1 570.1L473.7 570.6L472.3 571.1L470.8 571.6L469.4 572.1L468.0 572.6L466.6 573.1L465.2 573.6L463.7 574.1L462.3 574.6L460.9 575.1L459.4 575.6L458.0 576.1L456.6 576.6L455.2 577.1L453.8 577.6L452.3 578.1L450.9 578.7L449.5 579.2L448.1 579.7L446.6 580.2L445.2 580.7L443.8 581.2L442.4 581.7L440.9 582.2L439.5 582.7L438.1 583.2L436.7 583.7L435.2 584.2L433.8 584.7L432.4 585.2L431.0 585.7L429.5 586.2L428.1 586.7L426.7 587.2L425.3 587.7L423.9 588.2L422.4 588.7L421.0 589.2L419.6 589.7L418.2 590.2L416.7 590.7L415.3 591.2L413.9 591.7L412.5 592.2L411.0 592.7L409.6 593.2L408.2 593.7L406.8 594.2L405.3 594.7L403.9 595.2L402.5 595.7L401.1 596.3L399.7 596.8L398.2 597.3L396.8 597.8L395.4 598.3L394.0 598.8L392.5 599.3L391.1 599.8L389.7 600.3L388.3 600.8L386.9 601.3L385.5 601.8L384.0 602.3L382.6 602.8L381.2 603.3L379.8 603.9L378.3 604.4L376.9 604.9L375.5 605.4L374.1 605.9L372.7 606.4L371.3 606.9L369.8 607.4L368.4 607.9L367.0 608.5L365.6 609.0L364.2 609.5L362.8 610.0L361.3 610.5L359.9 611.0L358.5 611.6L357.1 612.1L355.7 612.6L354.2 613.1L352.8 613.6L351.4 614.1L350.0 614.7L348.6 615.2L347.2 615.7L345.8 616.2L344.3 616.8L342.9 617.3L341.5 617.8L340.1 618.4L338.7 618.9L337.3 619.4L335.9 619.9L334.5 620.5L333.1 621.0L331.6 621.5L330.2 622.1L328.8 622.6L327.4 623.1L326.0 623.7L324.6 624.2L323.2 624.8L321.8 625.3L320.4 625.8L319.0 626.4L317.6 626.9L316.2 627.5L314.8 628.0L313.4 628.6L312.0 629.1L310.6 629.7L309.2 630.2L307.8 630.8L306.4 631.3L305.0 631.9L303.6 632.5L302.2 633.0L300.8 633.6L299.4 634.1L298.0 634.7L296.6 635.3L295.2 635.8L293.8 636.4L292.4 637.0L291.0 637.6L289.6 638.1L288.2 638.7L286.8 639.3L285.4 639.9L284.0 640.5L282.7 641.0L281.3 641.6L279.9 642.2L278.5 642.8L277.1 643.4L275.7 644.0L274.4 644.6L273.0 645.2L271.6 645.8L270.2 646.4L268.9 647.0L267.5 647.6L266.1 648.2L264.7 648.8L263.3 649.5L262.0 650.1L260.6 650.7L259.2 651.3L257.9 652.0L256.5 652.6L255.1 653.2L253.8 653.9L252.4 654.5L251.0 655.2L249.7 655.8L248.3 656.4L247.0 657.1L245.6 657.8L244.3 658.4L242.9 659.1L241.6 659.8L240.2 660.4L238.9 661.1L237.5 661.8L236.2 662.5L234.9 663.1L233.5 663.8L232.2 664.5L230.9 665.2L229.5 665.9L228.2 666.6L226.9 667.3L225.6 668.1L224.2 668.8L222.9 669.5L221.6 670.2L220.3 671.0L219.0 671.7L217.7 672.5L216.4 673.2L215.1 674.0L213.8 674.7L212.5 675.5L211.2 676.3L209.9 677.1L208.6 677.8L207.4 678.6L206.1 679.4L204.8 680.2L203.6 681.0L202.3 681.9L201.0 682.7L199.8 683.5L198.5 684.4L197.3 685.2L196.1 686.1L194.8 686.9L193.6 687.8L192.4 688.7L191.2 689.6L190.0 690.5L188.8 691.4L187.6 692.3L186.4 693.2L185.2 694.1L184.0 695.1L182.9 696.0L181.7 697.0L180.6 697.9L179.4 698.9L178.3 699.9L177.2 700.9L176.1 701.9L175.0 702.9L173.9 704.0L172.8 705.0L171.7 706.1L170.7 707.1L169.6 708.2L168.6 709.3L167.6 710.4L166.6 711.5L165.6 712.6L164.6 713.8L163.6 714.9L162.7 716.1L161.7 717.2L160.8 718.4L159.9 719.6L159.0 720.8L158.1 722.0L157.2 723.2L156.3 724.4L155.4 725.7L154.5 726.8L153.5 728.0L152.3 728.9L151.6 728.7" stroke-width="2" stroke-dasharray="19.5 9.650" stroke-dashoffset="27.4"/>
<path d="M151.6 728.7L150.9 727.3L150.6 725.8L150.4 724.3L150.3 722.8L150.2 721.4L150.1 719.9L150.0 718.4L149.9 716.9L149.9 715.4L149.8 713.9L149.8 712.4L149.8 710.9L149.7 709.4L149.7 707.9L149.7 706.4L149.6 704.9L149.6 703.4L149.6 701.9L149.6 700.3L149.6 698.8L149.6 697.3L149.5 695.8L149.5 694.3L149.5 692.8L149.5 691.3L149.5 689.8L149.5 688.3L149.5 686.8L149.5 685.3L149.5 683.8L149.5 682.3L149.5 680.8L149.5 679.3L149.5 677.8L149.4 676.3L149.4 674.8L149.4 673.3L149.4 671.8L149.4 670.3L149.4 668.8L149.4 667.3L149.4 665.8L149.4 664.3L149.4 662.8L149.4 661.3L149.4 659.8L149.4 658.3L149.4 656.8L149.4 655.3L149.4 653.8L149.4 652.3L149.4 650.8L149.4 649.3L149.4 647.8L149.4 646.3L149.4 644.8L149.4 643.3L149.4 641.8L149.4 640.3L149.4 638.8L149.5 637.3L149.5 635.8L149.5 634.3L149.5 632.8L149.5 631.3L149.5 629.8L149.5 628.3L149.5 626.8L149.5 625.3L149.5 623.8L149.5 622.3L149.5 620.8L149.5 619.3L149.5 617.7L149.5 616.2L149.5 614.7L149.5 613.2L149.5 611.7L149.5 610.2L149.5 608.7L149.5 607.2L149.5 605.7L149.5 604.2L149.5 602.7L149.5 601.2L149.6 599.7L149.6 598.2L149.6 596.7L149.6 595.2L149.6 593.7L149.6 592.2L149.6 590.7L149.6 589.2L149.6 587.7L149.6 586.2L149.6 584.7L149.6 583.2L149.6 581.7L149.6 580.2L149.6 578.7L149.6 577.2L149.7 575.7L149.7 574.2L149.7 572.7L149.7 571.2L149.7 569.7L149.7 568.2L149.7 566.7L149.7 565.2L149.7 563.7L149.7 562.2L149.7 560.6L149.7 559.1L149.7 557.6L149.7 556.1L149.8 554.6L149.8 553.1L149.8 551.6L149.8 550.1L149.8 548.6L149.8 547.1L149.8 545.6L149.8 544.1L149.8 542.6L149.8 541.1L149.8 539.6L149.9 538.1L149.9 536.6L149.9 535.1L149.9 533.6L149.9 532.1L149.9 530.6L149.9 529.1L149.9 527.6L149.9 526.1L149.9 524.6L150.0 523.1L150.0 521.5L150.0 520.0L150.0 518.5L150.0 517.0L150.0 515.5L150.0 514.0L150.0 512.5L150.0 511.0L150.0 509.5L150.1 508.0L150.1 506.5L150.1 505.0L150.1 503.5L150.1 502.0L150.1 500.5L150.1 499.0L150.1 497.5L150.2 496.0L150.2 494.5L150.2 493.0L150.2 491.5L150.2 490.0L150.2 488.5L150.2 487.0L150.3 485.4L150.3 483.9L150.3 482.4L150.3 480.9L150.3 479.4L150.3 477.9L150.3 476.4L150.4 474.9L150.4 473.4L150.4 471.9L150.4 470.4L150.4 468.9L150.4 467.4L150.4 465.9L150.5 464.4L150.5 462.9L150.5 461.4L150.5 459.9L150.5 458.4L150.5 456.9L150.6 455.4L150.6 453.9L150.6 452.4L150.6 450.8L150.6 449.3L150.6 447.8L150.7 446.3L150.7 444.8L150.7 443.3L150.7 441.8L150.7 440.3L150.8 438.8L150.8 437.3L150.8 435.8L150.8 434.3L150.8 432.8L150.9 431.3L150.9 429.8L150.9 428.3L150.9 426.8L150.9 425.3L151.0 423.8L151.0 422.3L151.0 420.7L151.0 419.2L151.1 417.7L151.1 416.2L151.1 414.7L151.1 413.2L151.1 411.7L151.2 410.2L151.2 408.7L151.2 407.2L151.2 405.7L151.3 404.2L151.3 402.7L151.3 401.2L151.4 399.7L151.4 398.2L151.4 396.7L151.4 395.2L151.5 393.7L151.5 392.2L151.5 390.6L151.6 389.1L151.6 387.6L151.6 386.1L151.6 384.6L151.7 383.1L151.7 381.6L151.7 380.1L151.8 378.6L151.8 377.1L151.8 375.6L151.9 374.1L151.9 372.6L151.9 371.1L152.0 369.6L152.0 368.1L152.0 366.6L152.1 365.1L152.1 363.6L152.2 362.1L152.2 360.6L152.2 359.1L152.3 357.6L152.3 356.0L152.3 354.5L152.4 353.0L152.4 351.5L152.5 350.0L152.5 348.5L152.6 347.0L152.6 345.5L152.6 344.0L152.7 342.5L152.7 341.0L152.8 339.5L152.8 338.0L152.9 336.5L152.9 335.0L153.0 333.5L153.0 332.0L153.1 330.5L153.1 329.0L153.2 327.5L153.2 326.0L153.3 324.5L153.4 323.0L153.4 321.5L153.5 320.0L153.5 318.5L153.6 317.0L153.7 315.5L153.7 314.0L153.8 312.5L153.8 311.0L153.9 309.5L154.0 307.9L154.0 306.4L154.1 304.9L154.2 303.4L154.3 301.9L154.3 300.4L154.4 298.9L154.5 297.4L154.6 295.9L154.6 294.4L154.7 292.9L154.8 291.4L154.9 289.9L155.0 288.4L155.0 286.9L155.1 285.4L155.2 283.9L155.3 282.4L155.4 280.9L155.5 279.4L155.6 277.9L155.7 276.4L155.8 274.9L155.9 273.4L156.0 271.9L156.1 270.4L156.2 268.9L156.3 267.4L156.5 265.9L156.6 264.4L156.7 262.9L156.8 261.4L156.9 259.9L157.1 258.4L157.2 256.9L157.3 255.4L157.5 253.9L157.6 252.4L157.7 250.9L157.9 249.4L158.0 247.9L158.2 246.4L158.4 244.9L158.5 243.4L158.7 242.0L158.8 240.5L159.0 239.0L159.2 237.5L159.4 236.0L159.6 234.5L159.7 233.0L159.9 231.5L160.1 230.0L160.4 228.5L160.6 227.0L160.8 225.6L161.0 224.1L161.2 222.6L161.5 221.1L161.7 219.6L162.0 218.1L162.2 216.6L162.5 215.2L162.7 213.7L163.0 212.2L163.3 210.7L163.6 209.3L163.9 207.8L164.2 206.3L164.5 204.8L164.8 203.4L165.2 201.9L165.5 200.5L165.9 199.0L166.3 197.5L166.6 196.1L167.0 194.6L167.4 193.2L167.8 191.7L168.3 190.3L168.7 188.9L169.2 187.4L169.6 186.0L170.1 184.6L170.6 183.2L171.1 181.8L171.7 180.3L172.2 178.9L172.8 177.6L173.4 176.2L174.0 174.8L174.6 173.4L175.2 172.1L175.9 170.7L176.6 169.4L177.3 168.0L178.0 166.7L178.7 165.4L179.5 164.1L180.3 162.8L181.1 161.6L181.9 160.3L182.8 159.1L183.6 157.9L184.5 156.6L185.5 155.5L186.4 154.3L187.3 153.1L188.3 152.0L189.3 150.9L190.3 149.8L191.4 148.7L192.5 147.6L193.5 146.6L194.6 145.6L195.8 144.6L196.9 143.6L198.0 142.6L199.2 141.7L200.4 140.7L201.6 139.8L202.8 139.0L204.1 138.1L205.3 137.3L206.6 136.4L207.8 135.6L209.1 134.8L210.4 134.1L211.7 133.3L213.0 132.6L214.3 131.9L215.7 131.2L217.0 130.5L218.4 129.8L219.7 129.2L221.1 128.5L222.4 127.9L223.8 127.3L225.2 126.7L226.6 126.1L228.0 125.6L229.4 125.0L230.8 124.5L232.2 123.9L233.6 123.4L235.0 122.9L236.4 122.4L237.8 121.9L239.3 121.4L240.7 121.0L242.1 120.5L243.6 120.0L245.0 119.6L246.5 119.2L247.9 118.8L249.4 118.3L250.8 117.9L252.3 117.5L253.7 117.1L255.2 116.8L256.6 116.4L258.1 116.0L259.6 115.6L261.0 115.3L262.5 114.9L263.9 114.6L265.4 114.3L266.9 113.9L268.3 113.6L269.8 113.3L271.3 113.0L272.8 112.6L274.2 112.3L275.7 112.0L277.2 111.7L278.7 111.4L280.1 111.2L281.6 110.9L283.1 110.6L284.6 110.3L286.1 110.1L287.5 109.8L289.0 109.5L290.5 109.3L292.0 109.0L293.5 108.8L295.0 108.5L296.5 108.3L298.0 108.0L299.4 107.8L300.9 107.6L302.4 107.3L303.9 107.1L305.4 106.9L306.9 106.6L308.4 106.4L309.9 106.2L311.3 106.0L312.8 105.8L314.3 105.6L315.8 105.4L317.3 105.2L318.8 105.0L320.3 104.8L321.8 104.6L323.3 104.4L324.8 104.2L326.3 104.0L327.8 103.8L329.3 103.6L330.8 103.4L332.3 103.2L333.8 103.1L335.3 102.9L336.7 102.7L338.2 102.5L339.7 102.4L341.2 102.2L342.7 102.0L344.2 101.9L345.7 101.7L347.2 101.5L348.7 101.4L350.2 101.2L351.7 101.1L353.2 100.9L354.7 100.7L356.2 100.6L357.7 100.4L359.2 100.3L360.8 100.1L362.3 100.0L363.8 99.8L365.3 99.7L366.8 99.5L368.3 99.4L369.8 99.3L371.3 99.1L372.8 99.0L374.3 98.8L375.8 98.7L377.3 98.6L378.8 98.4L380.3 98.3L381.8 98.2L383.3 98.0L384.8 97.9L386.3 97.8L387.8 97.7L389.3 97.5L390.8 97.4L392.3 97.3L393.8 97.1L395.3 97.0L396.8 96.9L398.3 96.8L399.8 96.7L401.3 96.5L402.8 96.4L404.3 96.3L405.8 96.2L407.3 96.1L408.8 96.0L410.3 95.8L411.9 95.7L413.4 95.6L414.9 95.5L416.4 95.4L417.9 95.3L419.4 95.2L420.9 95.1L422.4 95.0L423.9 94.9L425.4 94.7L426.9 94.6L428.4 94.5L429.9 94.4L431.4 94.3L432.9 94.2L434.4 94.1L436.0 94.0L437.5 93.9L439.0 93.8L440.5 93.7L442.0 93.6L443.5 93.5L445.0 93.4L446.5 93.3L448.0 93.2L449.5 93.1L451.0 93.0L452.5 92.9L454.0 92.8L455.5 92.7L457.0 92.7L458.5 92.6L460.0 92.5L461.6 92.4L463.1 92.3L464.6 92.2L466.1 92.1L467.6 92.0L469.1 91.9L470.6 91.8L472.1 91.7L473.6 91.7L475.1 91.6L476.6 91.5L478.1 91.4L479.6 91.3L481.2 91.2L482.7 91.1L484.2 91.1L485.7 91.0L487.2 90.9L488.7 90.8L490.2 90.7L491.7 90.6L493.2 90.6L494.7 90.5L496.2 90.4L497.7 90.3L499.2 90.2L500.7 90.1L502.2 90.1L503.8 90.0L505.3 89.9L506.8 89.8L508.3 89.7L509.8 89.7L511.3 89.6L512.8 89.5L514.3 89.4L515.9 89.4L517.4 89.3L518.9 89.2L520.4 89.1L521.9 89.0L523.4 89.0L525.0 88.9L526.5 88.8L528.0 88.7L529.5 88.7L531.0 88.6L532.6 88.5L534.1 88.4L535.6 88.4L537.1 88.3L538.6 88.2L540.1 88.2L541.7 88.1L543.2 88.0L544.7 87.9L546.2 87.9L547.7 87.8L549.2 87.7L550.8 87.6L552.3 87.6L553.8 87.5L555.3 87.4L556.8 87.4L558.3 87.3L559.8 87.2L561.3 87.2L562.8 87.1L564.3 87.0L565.8 87.0L567.4 86.9L568.9 86.8L570.4 86.8L571.9 86.7L573.4 86.6L574.9 86.6L576.4 86.5L577.9 86.4L579.4 86.4L580.9 86.3L582.5 86.2L584.0 86.2L585.5 86.1L587.0 86.0L588.5 86.0L590.0 85.9L591.5 85.8L593.0 85.8L594.5 85.7L596.0 85.6L597.5 85.6L599.0 85.5L600.5 85.4L602.0 85.4L603.5 85.3L605.1 85.2L606.6 85.2L608.1 85.1L609.6 85.1L611.1 85.0L612.6 84.9L614.1 84.9L615.6 84.8L617.1 84.7L618.6 84.7L620.1 84.6L621.6 84.6L623.1 84.5L624.7 84.4L626.2 84.4L627.7 84.3L629.2 84.3L630.7 84.2L632.2 84.1L633.7 84.1L635.2 84.0L636.7 83.9L638.2 83.9L639.8 83.8L641.3 83.8L642.8 83.7L644.3 83.6L645.8 83.6L647.3 83.5L648.8 83.5L650.3 83.4L651.8 83.3L653.3 83.3L654.8 83.2L656.4 83.2L657.9 83.1L659.4 83.0L660.9 83.0L662.4 82.9L663.9 82.9L665.4 82.8L666.9 82.8L668.4 82.7L669.9 82.6L671.4 82.6L672.9 82.5L674.4 82.5L676.0 82.4L677.5 82.3L679.0 82.3L680.5 82.2L682.0 82.2L683.5 82.1L685.0 82.0L686.5 82.0L688.0 81.9L689.5 81.9L691.0 81.8L692.5 81.8L694.0 81.7L695.6 81.6L697.1 81.6L698.6 81.5L700.1 81.5L701.6 81.4L703.1 81.3L704.6 81.3L706.1 81.2L707.6 81.2L709.1 81.1L710.6 81.1L712.1 81.0L713.6 80.9L715.1 80.9L716.6 80.8L718.2 80.8L719.7 80.7L721.2 80.7L722.7 80.6L724.2 80.5L725.7 80.5L727.2 80.4L728.7 80.4L730.2 80.3L731.7 80.2L733.2 80.2L734.7 80.1L736.2 80.1L737.7 80.0L739.2 80.0L740.7 79.9L742.2 79.8L743.8 79.8L745.3 79.7L746.8 79.7L748.3 79.6L749.8 79.5L751.3 79.5L752.8 79.4L754.3 79.4L755.8 79.3L757.3 79.2L758.8 79.2L760.3 79.1L761.8 79.1L763.3 79.0L764.8 79.0L766.3 78.9L767.8 78.8L769.3 78.8L770.8 78.7L772.3 78.7L773.8 78.6L775.3 78.5L776.9 78.5L778.4 78.4L779.9 78.3L781.4 78.3L782.9 78.2L784.4 78.2L785.9 78.1L787.4 78.0L788.9 78.0L790.4 77.9L791.9 77.9L793.4 77.8L794.9 77.7L796.4 77.7L797.9 77.6L799.4 77.5L800.9 77.5L802.4 77.4L803.9 77.3L805.4 77.3L806.9 77.2L808.4 77.1L809.9 77.1L811.4 77.0L812.9 77.0L814.4 76.9L815.9 76.8L817.4 76.8L818.9 76.7L820.4 76.6L821.9 76.5L823.4 76.5L824.9 76.4L826.4 76.3L827.9 76.3L829.4 76.2L830.9 76.1L832.5 76.1L834.0 76.0L835.5 75.9L837.0 75.8L838.5 75.8L840.0 75.7L841.5 75.6L843.0 75.5L844.5 75.5L846.0 75.4L847.5 75.3L849.0 75.2L850.5 75.2L852.0 75.1L853.5 75.0L855.0 74.9L856.5 74.8L858.0 74.7L859.5 74.7L861.0 74.6L862.5 74.5L864.0 74.4L865.5 74.3L867.0 74.2L868.5 74.1L870.0 74.0L871.5 73.9L873.0 73.8L874.4 73.7L875.9 73.6L877.4 73.5L878.9 73.4L880.4 73.3L881.9 73.2L883.4 73.1L884.9 73.0L886.4 72.9L887.9 72.7L889.4 72.6L890.9 72.5L892.4 72.3L893.9 72.2L895.4 72.0L896.9 71.9L898.4 71.7L899.9 71.6L901.4 71.4L902.9 71.2L904.3 71.0L905.8 70.9L907.1 71.3" stroke-width="2" stroke-dasharray="19.5 9.755" stroke-dashoffset="27.5"/>
<path d="M696.8 65.9L698.4 65.9L699.9 65.9L701.5 65.9L703.0 65.9L704.5 65.9L706.1 65.9L707.6 65.9L709.1 65.9L710.6 65.9L712.3 65.9L714.0 65.9L715.7 65.9L717.4 65.9L719.1 65.9L720.7 65.9L722.4 65.9L724.0 65.9L725.6 65.9L727.2 65.9L728.9 65.9L730.5 65.9L732.0 65.9L733.6 65.9L735.2 65.9L736.7 65.9L738.3 65.9L739.8 65.9L741.4 65.9L742.9 65.9L744.4 65.9L746.1 65.9L747.7 65.9L749.4 65.9L751.0 65.9L752.7 65.9L754.3 65.9L755.9 65.9L757.5 65.9L759.1 65.9L760.6 65.9L762.2 65.9L763.7 65.9L765.3 65.9L766.8 65.9L768.3 65.9L769.9 65.9L771.6 65.9L773.2 65.9L774.8 65.9L776.4 65.9L778.0 65.9L779.6 65.9L781.1 65.9L782.6 65.9L784.2 65.9L785.7 65.9L787.3 65.9L788.9 65.9L790.5 65.9L792.1 65.9L793.7 65.9L795.2 65.9L796.7 65.9L798.2 65.9L799.9 65.9L801.5 65.9L803.1 65.9L804.6 65.9L806.2 65.9L807.7 65.9L809.2 65.9L810.8 65.9L812.4 65.9L814.0 65.9L815.5 65.9L817.0 65.9L818.6 65.9L820.2 65.9L821.8 65.9L823.3 65.9L824.8 65.9L826.4 65.9L828.0 65.9L829.5 65.9L831.0 65.9L832.6 65.9L834.2 65.9L835.7 65.9L837.3 65.9L838.8 65.9L840.4 65.9L841.9 65.9L843.5 65.9L845.0 65.9L846.6 65.9L848.1 65.9L849.6 65.9L851.2 65.9L852.7 65.9L854.3 65.9L855.8 65.9L857.3 65.9L858.8 65.9L860.4 65.9L861.9 65.9L863.4 65.9L865.0 65.9L866.5 65.9L868.0 65.9L869.6 65.9L871.1 65.9L872.6 65.9L874.1 65.9L875.7 65.9L877.2 65.9L878.7 65.9L880.2 65.9L881.7 65.9L883.2 65.9L884.8 65.9L886.3 65.9L887.8 65.9L889.3 65.9L890.8 65.9L892.3 65.9L893.9 65.9L895.4 65.9L896.9 65.9L898.4 65.9L899.9 66.0L901.4 66.0L902.9 66.0L904.4 66.0L905.9 66.1L907.4 66.4L908.1 67.7L908.2 69.2L908.3 70.7L908.3 72.2L908.3 73.7L908.3 75.2L908.3 76.7L908.3 78.2L908.3 79.7L908.3 81.2L908.3 82.7L908.3 84.3L908.3 85.8L908.3 87.3L908.3 88.8L908.3 90.3L908.3 91.8L908.3 93.3L908.3 94.9L908.3 96.4L908.3 97.9L908.3 99.4L908.3 100.9L908.3 102.4L908.3 104.0L908.3 105.5L908.3 107.0L908.3 108.5L908.3 110.0L908.3 111.5L908.3 113.1L908.3 114.6L908.3 116.1L908.3 117.6L908.3 119.1L908.3 120.7L908.3 122.2L908.3 123.8L908.3 125.3L908.3 126.8L908.3 128.4L908.3 129.9L908.3 131.4L908.3 133.0L908.3 134.5L908.3 136.0L908.3 137.6L908.3 139.1L908.3 140.6L908.3 142.2L908.3 143.7L908.3 145.3L908.3 146.9L908.3 148.4L908.3 149.9L908.3 151.5L908.3 153.0L908.3 154.6L908.3 156.1L908.3 157.7L908.3 159.2L908.3 160.8L908.3 162.3L908.3 163.9L908.3 165.4L908.3 167.0L908.3 168.5L908.3 170.1L908.3 171.7L908.3 173.2L908.3 174.7L908.3 176.3L908.3 177.9L908.3 179.5L908.3 181.1L908.3 182.6L908.3 184.1L908.3 185.7L908.3 187.2L908.3 188.8L908.3 190.4L908.3 192.0L908.3 193.5L908.3 195.1L908.3 196.6L908.3 198.2L908.3 199.7L908.3 201.3L908.3 202.9L908.3 204.5L908.3 206.0L908.3 207.6L908.3 209.1L908.3 210.6L908.3 212.2L908.3 213.8L908.3 215.3L908.3 216.9L908.3 218.5L908.3 220.2L908.3 221.8L908.3 223.3L908.3 224.8L908.3 226.3L908.3 227.9L908.3 229.4L908.3 231.0L908.3 232.6L908.3 234.1L908.3 235.7L908.3 237.3L908.3 238.9L908.3 240.6L908.3 242.2L908.3 243.8L908.3 245.4L908.3 246.9L908.3 248.4L908.3 249.9L908.3 251.5L908.3 253.0L908.3 254.6L908.3 256.1L908.3 257.7L908.3 259.3L908.3 260.9L908.3 262.5L908.3 264.1L908.3 265.7L908.3 267.3L908.3 268.9L908.3 270.6L908.3 272.2L908.3 273.9L908.3 275.5L908.3 277.0L908.3 278.6L908.3 280.1L908.3 281.6L908.3 283.1L908.3 284.7L908.3 286.2L908.3 287.7L908.3 289.3L908.3 290.9L908.3 292.4L908.3 294.0L908.3 295.6L908.3 297.2L908.3 298.7L908.3 300.3L908.3 301.9L908.3 303.6L908.3 305.2L908.3 306.8L908.3 308.4L908.3 310.0L908.3 311.7L908.3 313.3L908.3 315.0L908.3 316.6L908.3 318.3L908.3 319.9L908.3 321.6L908.3 323.3L908.3 324.9L908.3 326.6L908.3 328.3L908.3 329.8L908.3 331.3L908.3 332.8L908.3 334.3L908.3 335.9L908.3 337.4L908.3 338.9L908.3 340.4L908.3 342.0L908.3 343.5L908.3 345.1L908.3 346.6L908.3 348.1L908.3 349.7L908.3 351.2L908.3 352.8L908.3 354.4L908.3 355.9L908.3 357.5L908.3 359.0L908.3 360.6L908.3 362.2L908.3 363.8L908.3 365.3L908.3 366.9L908.3 368.5L908.3 370.1L908.3 371.7L908.3 373.3L908.3 374.9L908.3 376.5L908.3 378.0L908.3 379.6L908.3 381.2L908.3 382.9L908.3 384.5L908.3 386.1L908.3 387.7L908.3 389.3L908.3 390.9L908.3 392.5L908.3 394.1L908.3 395.7L908.3 397.4L908.3 399.0L908.3 400.6L908.3 402.2L908.3 403.8L908.3 405.5L908.3 407.1L908.3 408.7L908.3 410.4L908.3 412.0L908.3 413.6L908.3 415.2L908.3 416.9L908.3 418.5L908.3 420.1L908.3 421.8L908.3 423.4L908.3 425.0L908.3 426.7L908.3 428.3L908.3 429.9L908.3 431.6L908.3 433.2L908.3 434.8L908.3 436.5L908.3 438.1L908.3 439.8L908.3 441.4L908.3 443.0L908.3 444.7L908.3 446.3L908.3 447.9L908.3 449.6L908.3 451.2L908.3 452.8L908.3 454.4L908.3 456.1L908.3 457.7L908.3 459.3L908.3 461.0L908.3 462.6L908.3 464.2L908.3 465.8L908.3 467.5L908.3 469.1L908.3 470.7L908.3 472.3L908.3 473.9L908.3 475.6L908.3 477.2L908.3 478.8L908.3 480.4L908.3 482.0L908.3 483.6L908.3 485.2L908.3 486.8L908.3 488.4L908.3 490.0L908.3 491.6L908.3 493.2L908.3 494.8L908.3 496.4L908.3 498.0L908.3 499.6L908.3 501.1L908.3 502.7L908.3 504.3L908.3 505.9L908.3 507.4L908.3 509.0L908.3 510.6L908.3 512.2L908.3 513.7L908.3 515.3L908.3 516.8L908.3 518.4L908.3 519.9L908.3 521.5L908.3 523.0L908.3 524.6L908.3 526.1L908.3 527.6L908.3 529.2L908.3 530.7L908.3 532.2L908.3 533.7L908.3 535.2L908.3 536.8L908.3 538.3L908.3 539.8L908.3 541.3L908.3 543.0L908.3 544.6L908.3 546.3L908.3 548.0L908.3 549.7L908.3 551.3L908.3 553.0L908.3 554.6L908.3 556.3L908.3 557.9L908.3 559.5L908.3 561.2L908.3 562.8L908.3 564.4L908.3 566.0L908.3 567.6L908.3 569.2L908.3 570.8L908.3 572.4L908.3 574.0L908.3 575.6L908.3 577.2L908.3 578.7L908.3 580.3L908.3 581.8L908.3 583.4L908.3 584.9L908.3 586.5L908.3 588.0L908.3 589.5L908.3 591.0L908.3 592.6L908.3 594.1L908.3 595.6L908.3 597.2L908.3 598.9L908.3 600.5L908.3 602.2L908.3 603.8L908.3 605.4L908.3 607.0L908.3 608.6L908.3 610.2L908.3 611.8L908.3 613.4L908.3 615.0L908.3 616.5L908.3 618.1L908.3 619.6L908.3 621.2L908.3 622.7L908.3 624.2L908.3 625.7L908.3 627.2L908.3 628.9L908.3 630.5L908.3 632.2L908.3 633.8L908.3 635.4L908.3 637.0L908.3 638.6L908.3 640.1L908.3 641.7L908.3 643.3L908.2 644.8L908.2 646.4L908.2 647.9L908.2 649.4L908.2 650.9L908.2 652.5L908.2 654.2L908.2 655.8L908.2 657.4L908.2 658.9L908.2 660.5L908.2 662.1L908.2 663.6L908.2 665.2L908.2 666.7L908.2 668.2L908.2 669.8L908.2 671.4L908.2 673.0L908.2 674.6L908.2 676.2L908.2 677.7L908.2 679.3L908.2 680.8L908.2 682.3L908.2 683.8L908.2 685.4L908.2 687.0L908.2 688.6L908.2 690.1L908.2 691.7L908.2 693.2L908.2 694.7L908.2 696.3L908.2 697.9L908.2 699.4L908.2 701.0L908.2 702.5L908.2 704.0L908.2 705.6L908.2 707.2L908.2 708.7L908.2 710.3L908.2 711.8L908.2 713.3L908.2 714.9L908.2 716.4L908.2 718.0L908.2 719.5L908.2 721.1L908.1 722.6L908.1 724.2L908.1 725.7L908.1 727.2L908.1 728.8L908.1 730.3L908.1 731.8L908.1 733.4L908.1 734.9L908.1 736.4L908.1 738.0L908.1 739.5L908.1 741.0L908.1 742.6L908.1 744.1L908.1 745.7L908.1 747.2L908.1 748.7L908.1 750.2L908.0 751.7L908.0 753.3L908.0 754.8L908.0 756.3L908.0 757.9L908.0 759.4L908.0 760.9L908.0 762.4L908.0 763.9L908.0 765.5L907.9 767.0L907.9 768.5L907.9 770.0L907.9 771.6L907.9 773.1L907.9 774.6L907.9 776.1L907.8 777.6L907.8 779.2L907.8 780.7L907.8 782.2L907.7 783.7L907.7 785.2L907.7 786.7L907.6 788.2L907.6 789.7L907.5 791.2L907.5 792.7L907.4 794.2L907.4 795.8L907.3 797.3L907.2 798.8L907.1 800.3L907.0 801.8L906.8 803.3L906.7 804.8L906.4 806.2L906.2 807.7L905.8 809.2L905.4 810.6L904.8 812.0L904.1 813.3L903.1 814.5L902.0 815.5L900.8 816.3L899.4 817.0L898.0 817.5L896.6 818.0L895.1 818.3L893.6 818.6L892.1 818.9L890.6 819.1L889.1 819.3L887.6 819.5L886.1 819.6L884.6 819.7L883.1 819.9L881.6 820.0L880.1 820.1L878.6 820.2L877.1 820.3L875.6 820.3L874.0 820.4L872.5 820.5L871.0 820.6L869.5 820.6L868.0 820.7L866.4 820.7L864.9 820.8L863.4 820.8L861.8 820.9L860.3 820.9L858.8 821.0L857.2 821.0L855.7 821.0L854.2 821.1L852.6 821.1L851.1 821.1L849.6 821.2L848.0 821.2L846.5 821.2L844.9 821.3L843.4 821.3L841.8 821.3L840.3 821.3L838.7 821.4L837.2 821.4L835.6 821.4L834.1 821.4L832.5 821.5L830.9 821.5L829.4 821.5L827.9 821.5L826.3 821.5L824.7 821.6L823.2 821.6L821.7 821.6L820.1 821.6L818.5 821.6L816.9 821.6L815.4 821.7L813.8 821.7L812.3 821.7L810.7 821.7L809.1 821.7L807.6 821.7L806.0 821.8L804.5 821.8L802.9 821.8L801.3 821.8L799.7 821.8L798.1 821.8L796.6 821.8L795.0 821.8L793.5 821.8L791.9 821.9L790.3 821.9L788.7 821.9L787.1 821.9L785.5 821.9L784.0 821.9L782.5 821.9L780.9 821.9L779.4 821.9L777.8 822.0L776.2 822.0L774.6 822.0L773.0 822.0L771.4 822.0L769.8 822.0L768.1 822.0L766.6 822.0L765.1 822.0L763.5 822.0L762.0 822.0L760.4 822.0L758.9 822.1L757.3 822.1L755.7 822.1L754.1 822.1L752.5 822.1L750.8 822.1L749.2 822.1L747.5 822.1L745.9 822.1L744.2 822.1L742.7 822.1L741.1 822.1L739.6 822.1L738.1 822.1L736.5 822.1L735.0 822.2L733.4 822.2L731.8 822.2L730.2 822.2L728.6 822.2L727.0 822.2L725.4 822.2L723.8 822.2L722.1 822.2L720.5 822.2L718.8 822.2L717.1 822.2L715.5 822.2L713.8 822.2L712.1 822.2L710.4 822.2L708.9 822.2L707.3 822.2L705.8 822.2L704.3 822.3L702.8 822.3L701.2 822.3L699.7 822.3L698.1 822.3L696.5 822.3L695.0 822.3L693.4 822.3L691.8 822.3L690.2 822.3L688.6 822.3L687.0 822.3L685.4 822.3L683.8 822.3L682.2 822.3L680.5 822.3L678.9 822.3L677.2 822.3L675.6 822.3L673.9 822.3L672.2 822.3L670.6 822.3L668.9 822.3L667.2 822.3L665.5 822.3L663.8 822.4L662.1 822.4L660.4 822.4L658.7 822.4L656.9 822.4L655.2 822.4L653.5 822.4L651.7 822.4L650.0 822.4L648.5 822.4L647.0 822.4L645.4 822.4L643.9 822.4L642.4 822.4L640.9 822.4L639.4 822.4L637.8 822.4L636.3 822.4L634.7 822.4L633.2 822.4L631.6 822.4L630.1 822.4L628.5 822.4L627.0 822.4L625.4 822.4L623.8 822.4L622.3 822.4L620.7 822.4L619.1 822.4L617.5 822.4L616.0 822.4L614.4 822.4L612.8 822.4L611.2 822.4L609.6 822.4L608.0 822.4L606.4 822.4L604.8 822.5L603.2 822.5L601.6 822.5L599.9 822.5L598.3 822.5L596.7 822.5L595.1 822.5L593.5 822.5L591.8 822.5L590.2 822.5L588.6 822.5L586.9 822.5L585.3 822.5L583.7 822.5L582.0 822.5L580.4 822.5L578.7 822.5L577.1 822.5L575.4 822.5L573.8 822.5L572.1 822.5L570.5 822.5L568.8 822.5L567.2 822.5L565.5 822.5L563.8 822.5L562.2 822.5L560.5 822.5L558.8 822.5L557.2 822.5L555.5 822.5L553.8 822.5L552.2 822.5L550.5 822.5L548.8 822.5L547.2 822.5L545.5 822.5L543.8 822.5L542.1 822.5L540.5 822.5L538.8 822.5L537.1 822.5L535.4 822.5L533.8 822.5L532.1 822.5L530.4 822.5L528.7 822.5L527.1 822.5L525.4 822.5L523.7 822.5L522.0 822.5L520.4 822.5L518.7 822.5L517.0 822.5L515.4 822.5L513.7 822.5L512.0 822.5L510.3 822.5L508.7 822.5L507.0 822.5L505.3 822.5L503.7 822.5L502.0 822.5L500.3 822.5L498.7 822.5L497.0 822.5L495.3 822.6L493.7 822.6L492.0 822.6L490.4 822.6L488.7 822.6L487.0 822.6L485.4 822.6L483.7 822.6L482.1 822.6L480.4 822.6L478.8 822.6L477.1 822.6L475.5 822.6L473.9 822.6L472.2 822.6L470.6 822.6L469.0 822.6L467.3 822.6L465.7 822.6L464.1 822.6L462.4 822.6L460.8 822.6L459.2 822.6L457.6 822.6L456.0 822.6L454.4 822.6L452.8 822.6L451.2 822.6L449.6 822.6L448.0 822.6L446.4 822.6L444.8 822.6L443.2 822.6L441.6 822.6L440.0 822.6L438.4 822.6L436.9 822.6L435.3 822.6L433.7 822.6L432.1 822.6L430.6 822.6L429.0 822.6L427.5 822.6L425.9 822.6L424.4 822.6L422.8 822.6L421.3 822.6L419.8 822.6L418.2 822.6L416.7 822.6L415.2 822.6L413.7 822.6L412.1 822.6L410.6 822.6L409.1 822.6L407.6 822.6L405.9 822.6L404.1 822.6L402.4 822.6L400.7 822.6L398.9 822.6L397.2 822.6L395.5 822.6L393.8 822.6L392.1 822.6L390.4 822.6L388.7 822.6L387.1 822.6L385.4 822.6L383.7 822.6L382.1 822.6L380.4 822.6L378.8 822.6L377.1 822.6L375.5 822.6L373.9 822.6L372.3 822.6L370.6 822.6L369.0 822.6L367.4 822.6L365.9 822.6L364.3 822.6L362.7 822.5L361.1 822.5L359.6 822.5L358.0 822.5L356.5 822.5L354.9 822.5L353.4 822.5L351.9 822.5L350.4 822.5L348.8 822.5L347.3 822.5L345.6 822.5L343.9 822.5L342.3 822.5L340.6 822.5L338.9 822.5L337.2 822.5L335.6 822.5L334.0 822.5L332.3 822.5L330.7 822.5L329.1 822.5L327.5 822.5L325.9 822.5L324.3 822.5L322.8 822.5L321.2 822.5L319.7 822.5L318.1 822.5L316.6 822.5L315.1 822.5L313.6 822.5L311.9 822.5L310.2 822.5L308.6 822.5L306.9 822.5L305.3 822.5L303.7 822.5L302.1 822.5L300.5 822.5L298.9 822.5L297.3 822.5L295.8 822.5L294.2 822.5L292.7 822.5L291.2 822.5L289.7 822.5L288.0 822.5L286.4 822.5L284.8 822.4L283.2 822.4L281.6 822.4L280.0 822.4L278.4 822.4L276.9 822.4L275.4 822.4L273.8 822.4L272.3 822.4L270.7 822.4L269.1 822.4L267.5 822.4L265.9 822.4L264.3 822.4L262.8 822.4L261.3 822.4L259.7 822.4L258.1 822.4L256.5 822.4L254.9 822.4L253.4 822.4L251.8 822.3L250.3 822.3L248.8 822.3L247.2 822.3L245.6 822.3L244.0 822.3L242.5 822.3L240.9 822.3L239.3 822.3L237.7 822.3L236.2 822.3L234.6 822.3L233.1 822.3L231.5 822.2L230.0 822.2L228.4 822.2L226.9 822.2L225.3 822.2L223.8 822.2L222.2 822.2L220.6 822.2L219.1 822.2L217.5 822.1L216.0 822.1L214.4 822.1L212.9 822.1L211.3 822.1L209.8 822.1L208.2 822.1L206.7 822.0L205.1 822.0L203.6 822.0L202.0 822.0L200.5 822.0L199.0 821.9L197.4 821.9L195.9 821.9L194.4 821.9L192.8 821.9L191.3 821.8L189.7 821.8L188.2 821.8L186.6 821.7L185.1 821.7L183.6 821.7L182.1 821.6L180.5 821.6L179.0 821.5L177.5 821.5L176.0 821.4L174.4 821.4L172.9 821.3L171.4 821.2L169.9 821.1L168.4 821.0L166.8 820.9L165.4 820.8L163.8 820.7L162.3 820.5L160.8 820.3L159.4 820.1L157.9 819.8L156.4 819.4L155.0 818.9L153.7 818.2L152.5 817.3L151.5 816.2L150.8 814.8L150.4 813.4L150.0 811.9L149.8 810.5L149.6 809.0L149.5 807.5L149.3 805.9L149.3 804.4L149.2 802.9L149.1 801.4L149.1 799.9L149.0 798.4L149.0 796.9L149.0 795.4L148.9 793.9L148.9 792.3L148.9 790.8L148.9 789.3L148.8 787.8L148.8 786.3L148.8 784.7L148.8 783.2L148.8 781.7L148.8 780.2L148.8 778.7L148.7 777.1L148.7 775.6L148.7 774.1L148.7 772.6L148.7 771.1L148.7 769.5L148.7 768.0L148.7 766.5L148.7 765.0L148.7 763.5L148.7 761.9L148.7 760.4L148.7 758.9L148.7 757.3L148.6 755.8L148.6 754.3L148.6 752.8L148.6 751.2L148.6 749.7L148.6 748.2L148.6 746.7L148.6 745.1L148.6 743.6L148.6 742.1L148.6 740.5L148.6 739.0L148.6 737.5L148.6 735.9L148.6 734.4L148.6 732.8L148.6 731.3L148.6 729.8L148.6 728.2L148.6 726.7L148.6 725.2L148.6 723.6L148.6 722.1L148.6 720.5L148.6 718.9L148.6 717.4L148.6 715.9L148.6 714.3L148.6 712.7L148.6 711.2L148.6 709.7L148.6 708.2L148.6 706.6L148.6 705.0L148.6 703.5L148.6 702.0L148.6 700.5L148.6 698.9L148.6 697.3L148.6 695.8L148.6 694.1L148.6 692.6L148.6 691.1L148.6 689.6L148.5 688.0L148.5 686.4L148.5 684.8L148.5 683.2L148.5 681.7L148.5 680.2L148.5 678.7L148.5 677.1L148.5 675.6L148.5 674.0L148.5 672.4L148.5 670.8L148.5 669.2L148.5 667.7L148.5 666.2L148.5 664.6L148.5 663.1L148.5 661.6L148.5 660.0L148.5 658.4L148.5 656.8L148.5 655.2L148.5 653.6L148.5 652.0L148.5 650.4L148.5 648.8L148.5 647.3L148.5 645.8L148.5 644.3L148.5 642.7L148.5 641.1L148.5 639.6L148.5 638.0L148.5 636.4L148.5 634.8L148.5 633.2L148.5 631.6L148.5 629.9L148.5 628.3L148.5 626.8L148.5 625.3L148.5 623.8L148.5 622.2L148.5 620.7L148.5 619.2L148.5 617.6L148.5 616.1L148.5 614.5L148.5 612.9L148.5 611.3L148.5 609.7L148.5 608.1L148.5 606.5L148.5 604.9L148.5 603.3L148.5 601.7L148.5 600.0L148.5 598.4L148.5 596.7L148.5 595.1L148.5 593.6L148.5 592.1L148.5 590.5L148.5 589.0L148.5 587.5L148.5 586.0L148.5 584.4L148.5 582.9L148.5 581.3L148.5 579.8L148.5 578.2L148.5 576.6L148.5 575.1L148.5 573.5L148.5 571.9L148.5 570.3L148.5 568.7L148.5 567.1L148.5 565.5L148.5 563.9L148.5 562.2L148.5 560.6L148.5 559.0L148.5 557.4L148.5 555.7L148.5 554.1L148.5 552.4L148.5 550.8L148.5 549.1L148.5 547.4L148.5 545.8L148.5 544.1L148.5 542.4L148.5 540.7L148.5 539.2L148.5 537.7L148.5 536.2L148.5 534.7L148.5 533.2L148.5 531.6L148.5 530.1L148.5 528.6L148.5 527.1L148.5 525.5L148.5 524.0L148.5 522.4L148.5 520.9L148.5 519.3L148.5 517.8L148.5 516.2L148.5 514.7L148.5 513.1L148.5 511.6L148.5 510.0L148.5 508.4L148.5 506.9L148.5 505.3L148.5 503.7L148.5 502.1L148.5 500.5L148.5 499.0L148.5 497.4L148.5 495.8L148.5 494.2L148.5 492.6L148.5 491.0L148.5 489.4L148.5 487.8L148.5 486.2L148.5 484.6L148.5 483.0L148.5 481.4L148.5 479.8L148.5 478.2L148.5 476.6L148.5 474.9L148.5 473.3L148.5 471.7L148.5 470.1L148.5 468.5L148.5 466.9L148.5 465.2L148.5 463.6L148.5 462.0L148.5 460.4L148.5 458.7L148.5 457.1L148.5 455.5L148.5 453.8L148.5 452.2L148.5 450.6L148.5 448.9L148.5 447.3L148.5 445.7L148.5 444.0L148.5 442.4L148.5 440.8L148.5 439.1L148.5 437.5L148.5 435.9L148.5 434.2L148.5 432.6L148.5 431.0L148.5 429.3L148.5 427.7L148.5 426.1L148.5 424.4L148.5 422.8L148.5 421.2L148.5 419.5L148.5 417.9L148.5 416.3L148.5 414.6L148.5 413.0L148.5 411.4L148.5 409.7L148.5 408.1L148.5 406.5L148.5 404.9L148.5 403.2L148.5 401.6L148.5 400.0L148.5 398.4L148.5 396.8L148.5 395.1L148.5 393.5L148.5 391.9L148.5 390.3L148.5 388.7L148.5 387.1L148.5 385.5L148.5 383.9L148.5 382.3L148.5 380.6L148.5 379.0L148.5 377.5L148.5 375.9L148.5 374.3L148.5 372.7L148.5 371.1L148.5 369.5L148.5 367.9L148.5 366.3L148.5 364.7L148.5 363.2L148.5 361.6L148.5 360.0L148.5 358.5L148.5 356.9L148.5 355.3L148.5 353.8L148.5 352.2L148.5 350.7L148.5 349.1L148.5 347.6L148.5 346.0L148.5 344.5L148.5 342.9L148.5 341.4L148.5 339.9L148.5 338.3L148.5 336.8L148.5 335.3L148.5 333.8L148.5 332.3L148.5 330.8L148.5 329.3L148.5 327.8L148.5 326.1L148.5 324.4L148.5 322.7L148.5 321.0L148.5 319.4L148.5 317.7L148.5 316.1L148.5 314.4L148.5 312.8L148.5 311.1L148.5 309.5L148.5 307.9L148.5 306.2L148.5 304.6L148.5 303.0L148.5 301.4L148.5 299.8L148.5 298.2L148.5 296.6L148.5 295.0L148.5 293.5L148.5 291.9L148.5 290.3L148.5 288.8L148.5 287.2L148.5 285.7L148.5 284.1L148.5 282.6L148.5 281.1L148.5 279.6L148.5 278.0L148.5 276.5L148.5 275.0L148.5 273.4L148.5 271.7L148.5 270.1L148.5 268.4L148.5 266.8L148.5 265.2L148.5 263.6L148.5 262.0L148.5 260.4L148.5 258.8L148.5 257.2L148.5 255.7L148.5 254.1L148.5 252.5L148.5 251.0L148.5 249.5L148.5 247.9L148.5 246.4L148.5 244.9L148.5 243.4L148.5 241.8L148.5 240.1L148.5 238.5L148.5 236.9L148.5 235.3L148.5 233.7L148.5 232.1L148.5 230.6L148.5 229.0L148.5 227.5L148.5 225.9L148.5 224.4L148.5 222.9L148.5 221.4L148.5 219.7L148.5 218.1L148.5 216.5L148.5 214.9L148.5 213.4L148.5 211.8L148.5 210.2L148.5 208.7L148.5 207.2L148.5 205.7L148.5 204.2L148.5 202.5L148.5 200.9L148.5 199.4L148.5 197.8L148.5 196.2L148.5 194.7L148.5 193.2L148.5 191.7L148.5 190.1L148.5 188.5L148.5 186.9L148.5 185.3L148.5 183.8L148.5 182.2L148.5 180.7L148.5 179.1L148.5 177.5L148.5 176.0L148.5 174.4L148.5 172.9L148.5 171.4L148.5 169.8L148.5 168.2L148.5 166.7L148.5 165.2L148.5 163.6L148.5 162.1L148.5 160.5L148.5 159.0L148.5 157.4L148.5 155.9L148.5 154.3L148.5 152.8L148.5 151.3L148.5 149.7L148.5 148.1L148.5 146.6L148.5 145.1L148.5 143.5L148.5 142.0L148.5 140.4L148.5 138.9L148.5 137.4L148.5 135.8L148.5 134.3L148.5 132.8L148.5 131.2L148.5 129.7L148.5 128.2L148.5 126.6L148.5 125.1L148.5 123.6L148.5 122.0L148.5 120.5L148.5 119.0L148.5 117.4L148.5 115.9L148.5 114.4L148.5 112.9L148.5 111.4L148.5 109.8L148.5 108.3L148.5 106.8L148.5 105.3L148.5 103.8L148.5 102.2L148.5 100.7L148.5 99.2L148.5 97.7L148.5 96.2L148.5 94.7L148.5 93.2L148.5 91.7L148.5 90.2L148.5 88.7L148.6 87.2L148.6 85.6L148.6 84.1L148.6 82.6L148.6 81.1L148.6 79.6L148.6 78.1L148.6 76.6L148.7 75.1L148.7 73.6L148.7 72.1L148.8 70.6L149.0 69.1L149.5 67.7L150.7 66.8L152.2 66.5L153.7 66.4L155.2 66.3L156.7 66.2L158.2 66.2L159.7 66.2L161.2 66.1L162.7 66.1L164.2 66.1L165.7 66.1L167.2 66.1L168.7 66.1L170.2 66.0L171.8 66.0L173.3 66.0L174.8 66.0L176.3 66.0L177.8 66.0L179.3 66.0L180.8 66.0L182.4 66.0L183.9 66.0L185.4 66.0L186.9 66.0L188.5 66.0L190.0 66.0L191.5 66.0L193.1 66.0L194.6 66.0L196.1 66.0L197.7 66.0L199.2 66.0L200.7 66.0L202.2 65.9L203.8 65.9L205.3 65.9L206.8 65.9L208.4 65.9L210.0 65.9L211.5 65.9L213.1 65.9L214.6 65.9L216.1 65.9L217.6 65.9L219.2 65.9L220.7 65.9L222.3 65.9L223.9 65.9L225.4 65.9L227.0 65.9L228.5 65.9L230.1 65.9L231.6 65.9L233.2 65.9L234.8 65.9L236.3 65.9L237.9 65.9L239.5 65.9L241.1 65.9L242.6 65.9L244.1 65.9L245.7 65.9L247.3 65.9L248.9 65.9L250.4 65.9L252.0 65.9L253.5 65.9L255.1 65.9L256.7 65.9L258.3 65.9L259.9 65.9L261.4 65.9L262.9 65.9L264.5 65.9L266.1 65.9L267.6 65.9L269.2 65.9L270.9 65.9L272.5 65.9L274.0 65.9L275.5 65.9L277.1 65.9L278.6 65.9L280.2 65.9L281.8 65.9L283.4 65.9L285.0 65.9L286.6 65.9L288.2 65.9L289.9 65.9L291.4 65.9L292.9 65.9L294.4 65.9L296.0 65.9L297.5 65.9L299.1 65.9L300.7 65.9L302.3 65.9L303.9 65.9L305.5 65.9L307.1 65.9L308.8 65.9L310.5 65.9L312.1 65.9L313.8 65.9L315.3 65.9L316.8 65.9L318.4 65.9L319.9 65.9L321.4 65.9L323.0 65.9L324.6 65.9L326.2 65.9L327.7 65.9L329.3 65.9L331.0 65.9L332.6 65.9L334.2 65.9L335.8 65.9L337.5 65.9L339.1 65.9L340.8 65.9L342.5 65.9L344.2 65.9L345.9 65.9L347.6 65.9L349.1 65.9L350.6 65.9L352.1 65.9L353.6 65.9L355.2 65.9L356.7 65.9L358.3 65.9L359.8 65.9L361.4 65.9L363.0 65.9L364.5 65.9L366.1 65.9L367.7 65.9L369.3 65.9L370.9 65.9L372.5 65.9L374.1 65.9L375.8 65.9L377.4 65.9L379.0 65.9L380.7 65.9L382.3 65.9L384.0 65.9L385.7 65.9L387.3 65.9L389.0 65.9L390.7 65.9L392.4 65.9L394.1 65.9L395.8 65.9L397.5 65.9L399.2 65.9L401.0 65.9L402.7 65.9L404.4 65.9L406.2 65.9L407.9 65.9L409.4 65.9L410.9 65.9L412.4 65.9L413.9 65.9L415.5 65.9L417.0 65.9L418.5 65.9L420.1 65.9L421.6 65.9L423.1 65.9L424.7 65.9L426.2 65.9L427.8 65.9L429.3 65.9L430.9 65.9L432.4 65.9L434.0 65.9L435.6 65.9L437.2 65.9L438.7 65.9L440.3 65.9L441.9 65.9L443.5 65.9L445.1 65.9L446.7 65.9L448.3 65.9L449.9 65.9L451.5 65.9L453.1 65.9L454.7 65.9L456.3 65.9L457.9 65.9L459.5 65.9L461.1 65.9L462.8 65.9L464.4 65.9L466.0 65.9L467.6 65.9L469.3 65.9L470.9 65.9L472.5 65.9L474.2 65.9L475.8 65.9L477.5 65.9L479.1 65.9L480.8 65.9L482.4 65.9L484.1 65.9L485.7 65.9L487.4 65.9L489.0 65.9L490.7 65.9L492.3 65.9L494.0 65.9L495.7 65.9L497.3 65.9L499.0 65.9L500.6 65.9L502.3 65.9L504.0 65.9L505.6 65.9L507.3 65.9L509.0 65.9L510.7 65.9L512.3 65.9L514.0 65.9L515.7 65.9L517.3 65.9L519.0 65.9L520.7 65.9L522.4 65.9L524.0 65.9L525.7 65.9L527.4 65.9L529.1 65.9L530.7 65.9L532.4 65.9L534.1 65.9L535.8 65.9L537.4 65.9L539.1 65.9L540.8 65.9L542.5 65.9L544.1 65.9L545.8 65.9L547.5 65.9L549.2 65.9L550.8 65.9L552.5 65.9L554.2 65.9L555.8 65.9L557.5 65.9L559.2 65.9L560.8 65.9L562.5 65.9L564.2 65.9L565.8 65.9L567.5 65.9L569.1 65.9L570.8 65.9L572.4 65.9L574.1 65.9L575.7 65.9L577.4 65.9L579.0 65.9L580.7 65.9L582.3 65.9L584.0 65.9L585.6 65.9L587.2 65.9L588.9 65.9L590.5 65.9L592.1 65.9L593.8 65.9L595.4 65.9L597.0 65.9L598.6 65.9L600.3 65.9L601.9 65.9L603.5 65.9L605.1 65.9L606.7 65.9L608.3 65.9L609.9 65.9L611.5 65.9L613.1 65.9L614.7 65.9L616.3 65.9L617.8 65.9L619.4 65.9L621.0 65.9L622.6 65.9L624.2 65.9L625.7 65.9L627.3 65.9L628.8 65.9L630.4 65.9L631.9 65.9L633.5 65.9L635.0 65.9L636.6 65.9L638.1 65.9L639.7 65.9L641.2 65.9L642.7 65.9L644.2 65.9L645.7 65.9L647.3 65.9L648.8 65.9L650.3 65.9L652.0 65.9L653.8 65.9L655.5 65.9L657.2 65.9L659.0 65.9L660.7 65.9L662.4 65.9L664.1 65.9L665.8 65.9L667.5 65.9L669.2 65.9L670.8 65.9L672.5 65.9L674.2 65.9L675.9 65.9L677.5 65.9L679.2 65.9L680.8 65.9L682.4 65.9L684.1 65.9L685.7 65.9L687.3 65.9L688.9 65.9L690.5 65.9L692.1 65.9L693.7 65.9L695.2 65.9L696.8 65.9Z" stroke-width="2.9" stroke-dasharray="1.3 6.5"/>
</g>
<g fill="none" stroke="#000" stroke-width="2.25" stroke-linejoin="round">
<path d="M131.2 65.6H144.85V825.5H131.2M131.2 445.6H144.85"/>
<path d="M148.4 839.2V825.3H908.5V839.2M528.5 825.3V839.2"/>
</g>
<g font-size="34.5" fill="#000" stroke="#000" stroke-width="0.35">
<text x="125.4" y="79.3" text-anchor="end">1.0</text>
<text x="125.4" y="459.3" text-anchor="end">0.5</text>
<text x="125.4" y="839.4" text-anchor="end">0.0</text>
<text x="148.0" y="872.3" text-anchor="middle">1.0</text>
<text x="528.0" y="872.3" text-anchor="middle">0.5</text>
<text x="908.0" y="872.3" text-anchor="middle">0.0</text>
<text x="528.7" y="908.7" text-anchor="middle" textLength="152.7" lengthAdjust="spacingAndGlyphs">Specificity</text>
<text transform="translate(55 445.2) rotate(-90)" text-anchor="middle" textLength="152.3" lengthAdjust="spacingAndGlyphs">Sensitivity</text>
</g>
<text x="168.2" y="50.5" font-size="34.4" fill="#1e2d53" stroke="#1e2d53" stroke-width="0.35" textLength="720" lengthAdjust="spacingAndGlyphs">SROC with Prediction &amp; Confidence Contours</text>
<g transform="translate(512.85 500.05) scale(0.9906 0.9023) translate(-505.6 -472.4)">
<rect x="505.6" y="472.4" width="391.95" height="342.8" fill="#fff" stroke="#000" stroke-width="2.5"/>
<circle cx="539.1" cy="507.6" r="16.2" fill="#ebebeb" stroke="#000" stroke-width="3"/>
<path d="M523.3 573.5L541.3 555.5L559.3 573.5L541.3 591.5Z" fill="#90353b"/>
<path d="M527 647.6H555.2" stroke="#000" stroke-width="4"/>
<path d="M527 709.55H555.2" stroke="#000" stroke-width="2.1"/>
<path d="M527 771.5H555" stroke="#000" stroke-width="4.2" stroke-dasharray="1.9 9.2"/>
<g font-size="24.15" fill="#000" stroke="#000" stroke-width="0.2">
<text x="586" y="517.2">Observed Data</text>
<text x="586" y="558.8">Summary Operating Point</text>
<text x="586" y="582.8">SENS = 0.82 [0.60 - 0.93]</text>
<text x="586" y="606.8">SPEC = 0.45 [0.08 - 0.88]</text>
<text x="586" y="644.6">SROC Curve</text>
<text x="586" y="668.5">AUC = 0.78 [0.74 - 0.81]</text>
<text x="586" y="718.7">95% Confidence Contour</text>
<text x="586" y="780.7">95% Prediction Contour</text>
</g>
</g>
</g>
</g>
<text x="11.2" y="40.8" font-size="43.6" font-weight="bold" fill="#000">A</text>
<text x="987.4" y="41" font-size="43.6" textLength="29.5" lengthAdjust="spacingAndGlyphs" font-weight="bold" fill="#000">B</text>
</svg>
</body></html>
